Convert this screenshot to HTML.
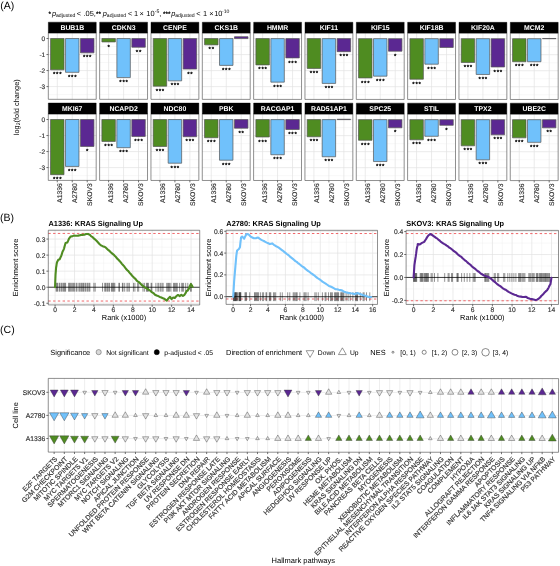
<!DOCTYPE html>
<html lang="en"><head><meta charset="utf-8"><title>Figure</title>
<style>html,body{margin:0;padding:0;background:#fff}body{width:560px;height:566px;overflow:hidden}svg{display:block}</style>
</head><body>
<svg width="560" height="566" viewBox="0 0 560 566" font-family='"Liberation Sans", Arial, Helvetica, sans-serif' text-rendering="geometricPrecision">
<g transform="rotate(0.02 280 283)">
<text x="0.1" y="9" font-size="10.5" text-anchor="start" font-weight="normal" fill="#000">(A)</text>
<text x="0.1" y="220.9" font-size="10.5" text-anchor="start" font-weight="normal" fill="#000">(B)</text>
<text x="0.1" y="333.4" font-size="10.5" text-anchor="start" font-weight="normal" fill="#000">(C)</text>
<text fill="#000"><tspan x="48.5" y="15.95" font-size="6.4" stroke="#000" stroke-width="0.25">*</tspan><tspan x="51.9" y="15.95" font-size="7.4" font-style="italic">p</tspan><tspan x="55.9" y="17.35" font-size="5.15">adjusted</tspan><tspan x="76.6" y="15.95" font-size="7.4">&lt;</tspan><tspan x="83.4" y="15.95" font-size="7.4">.05,</tspan><tspan x="96" y="15.95" font-size="6.4" stroke="#000" stroke-width="0.25">**</tspan><tspan x="102.7" y="15.95" font-size="7.4" font-style="italic">p</tspan><tspan x="106.7" y="17.35" font-size="5.15">adjusted</tspan><tspan x="127.8" y="15.95" font-size="7.4">&lt;</tspan><tspan x="134" y="15.95" font-size="7.4">1</tspan><tspan x="139.5" y="15.95" font-size="7.4">×</tspan><tspan x="146.2" y="15.95" font-size="7.4">10</tspan><tspan x="154.7" y="12.65" font-size="5.1">-5</tspan><tspan x="159.1" y="15.95" font-size="7.4">,</tspan><tspan x="162.9" y="15.95" font-size="6.4" stroke="#000" stroke-width="0.25">***</tspan><tspan x="171.1" y="15.95" font-size="7.4" font-style="italic">p</tspan><tspan x="175.1" y="17.35" font-size="5.15">adjusted</tspan><tspan x="196.2" y="15.95" font-size="7.4">&lt;</tspan><tspan x="202.8" y="15.95" font-size="7.4">1</tspan><tspan x="209.1" y="15.95" font-size="7.4">×</tspan><tspan x="214.1" y="15.95" font-size="7.4">10</tspan><tspan x="222" y="12.65" font-size="5.1">-10</tspan></text>
<rect x="48.25" y="33" width="47.9" height="66.4" fill="#fff" stroke="none" stroke-width="0.5"/>
<line x1="48.25" y1="46.61" x2="96.15" y2="46.61" stroke="#eeeeee" stroke-width="0.4"/>
<line x1="48.25" y1="62.63" x2="96.15" y2="62.63" stroke="#eeeeee" stroke-width="0.4"/>
<line x1="48.25" y1="78.65" x2="96.15" y2="78.65" stroke="#eeeeee" stroke-width="0.4"/>
<line x1="48.25" y1="94.67" x2="96.15" y2="94.67" stroke="#eeeeee" stroke-width="0.4"/>
<line x1="48.25" y1="38.6" x2="96.15" y2="38.6" stroke="#e2e2e2" stroke-width="0.7"/>
<line x1="48.25" y1="54.62" x2="96.15" y2="54.62" stroke="#e2e2e2" stroke-width="0.7"/>
<line x1="48.25" y1="70.64" x2="96.15" y2="70.64" stroke="#e2e2e2" stroke-width="0.7"/>
<line x1="48.25" y1="86.66" x2="96.15" y2="86.66" stroke="#e2e2e2" stroke-width="0.7"/>
<line x1="57.23" y1="33" x2="57.23" y2="99.4" stroke="#e2e2e2" stroke-width="0.7"/>
<line x1="72.2" y1="33" x2="72.2" y2="99.4" stroke="#e2e2e2" stroke-width="0.7"/>
<line x1="87.17" y1="33" x2="87.17" y2="99.4" stroke="#e2e2e2" stroke-width="0.7"/>
<rect x="50.5" y="38.6" width="13.47" height="31.3" fill="#4F8C21" stroke="#555" stroke-width="0.7"/>
<text x="57.58" y="76.5" font-size="6" text-anchor="middle" font-weight="normal" fill="#000" letter-spacing="0.75" stroke="#000" stroke-width="0.3">***</text>
<rect x="65.46" y="38.6" width="13.47" height="33.8" fill="#70C1FB" stroke="#555" stroke-width="0.7"/>
<text x="72.55" y="79" font-size="6" text-anchor="middle" font-weight="normal" fill="#000" letter-spacing="0.75" stroke="#000" stroke-width="0.3">***</text>
<rect x="80.43" y="38.6" width="13.47" height="14.3" fill="#5B2892" stroke="#555" stroke-width="0.7"/>
<text x="87.52" y="59.5" font-size="6" text-anchor="middle" font-weight="normal" fill="#000" letter-spacing="0.75" stroke="#000" stroke-width="0.3">***</text>
<rect x="48.25" y="33" width="47.9" height="66.4" fill="none" stroke="#454545" stroke-width="0.6"/>
<rect x="48.25" y="22.25" width="47.9" height="10.75" fill="#000" stroke="#000" stroke-width="0.4"/>
<text x="72.2" y="30.12" font-size="6.9" text-anchor="middle" font-weight="bold" fill="#fff">BUB1B</text>
<rect x="99.58" y="33" width="47.9" height="66.4" fill="#fff" stroke="none" stroke-width="0.5"/>
<line x1="99.58" y1="46.61" x2="147.48" y2="46.61" stroke="#eeeeee" stroke-width="0.4"/>
<line x1="99.58" y1="62.63" x2="147.48" y2="62.63" stroke="#eeeeee" stroke-width="0.4"/>
<line x1="99.58" y1="78.65" x2="147.48" y2="78.65" stroke="#eeeeee" stroke-width="0.4"/>
<line x1="99.58" y1="94.67" x2="147.48" y2="94.67" stroke="#eeeeee" stroke-width="0.4"/>
<line x1="99.58" y1="38.6" x2="147.48" y2="38.6" stroke="#e2e2e2" stroke-width="0.7"/>
<line x1="99.58" y1="54.62" x2="147.48" y2="54.62" stroke="#e2e2e2" stroke-width="0.7"/>
<line x1="99.58" y1="70.64" x2="147.48" y2="70.64" stroke="#e2e2e2" stroke-width="0.7"/>
<line x1="99.58" y1="86.66" x2="147.48" y2="86.66" stroke="#e2e2e2" stroke-width="0.7"/>
<line x1="108.56" y1="33" x2="108.56" y2="99.4" stroke="#e2e2e2" stroke-width="0.7"/>
<line x1="123.53" y1="33" x2="123.53" y2="99.4" stroke="#e2e2e2" stroke-width="0.7"/>
<line x1="138.5" y1="33" x2="138.5" y2="99.4" stroke="#e2e2e2" stroke-width="0.7"/>
<rect x="101.83" y="38.6" width="13.47" height="3.4" fill="#4F8C21" stroke="#555" stroke-width="0.7"/>
<text x="108.91" y="48.6" font-size="6" text-anchor="middle" font-weight="normal" fill="#000" letter-spacing="0.75" stroke="#000" stroke-width="0.3">*</text>
<rect x="116.79" y="38.6" width="13.47" height="39.05" fill="#70C1FB" stroke="#555" stroke-width="0.7"/>
<text x="123.88" y="84.25" font-size="6" text-anchor="middle" font-weight="normal" fill="#000" letter-spacing="0.75" stroke="#000" stroke-width="0.3">***</text>
<rect x="131.76" y="38.6" width="13.47" height="8.7" fill="#5B2892" stroke="#555" stroke-width="0.7"/>
<text x="138.85" y="53.9" font-size="6" text-anchor="middle" font-weight="normal" fill="#000" letter-spacing="0.75" stroke="#000" stroke-width="0.3">**</text>
<rect x="99.58" y="33" width="47.9" height="66.4" fill="none" stroke="#454545" stroke-width="0.6"/>
<rect x="99.58" y="22.25" width="47.9" height="10.75" fill="#000" stroke="#000" stroke-width="0.4"/>
<text x="123.53" y="30.12" font-size="6.9" text-anchor="middle" font-weight="bold" fill="#fff">CDKN3</text>
<rect x="150.91" y="33" width="47.9" height="66.4" fill="#fff" stroke="none" stroke-width="0.5"/>
<line x1="150.91" y1="46.61" x2="198.81" y2="46.61" stroke="#eeeeee" stroke-width="0.4"/>
<line x1="150.91" y1="62.63" x2="198.81" y2="62.63" stroke="#eeeeee" stroke-width="0.4"/>
<line x1="150.91" y1="78.65" x2="198.81" y2="78.65" stroke="#eeeeee" stroke-width="0.4"/>
<line x1="150.91" y1="94.67" x2="198.81" y2="94.67" stroke="#eeeeee" stroke-width="0.4"/>
<line x1="150.91" y1="38.6" x2="198.81" y2="38.6" stroke="#e2e2e2" stroke-width="0.7"/>
<line x1="150.91" y1="54.62" x2="198.81" y2="54.62" stroke="#e2e2e2" stroke-width="0.7"/>
<line x1="150.91" y1="70.64" x2="198.81" y2="70.64" stroke="#e2e2e2" stroke-width="0.7"/>
<line x1="150.91" y1="86.66" x2="198.81" y2="86.66" stroke="#e2e2e2" stroke-width="0.7"/>
<line x1="159.89" y1="33" x2="159.89" y2="99.4" stroke="#e2e2e2" stroke-width="0.7"/>
<line x1="174.86" y1="33" x2="174.86" y2="99.4" stroke="#e2e2e2" stroke-width="0.7"/>
<line x1="189.83" y1="33" x2="189.83" y2="99.4" stroke="#e2e2e2" stroke-width="0.7"/>
<rect x="153.16" y="38.6" width="13.47" height="47.6" fill="#4F8C21" stroke="#555" stroke-width="0.7"/>
<text x="160.24" y="92.8" font-size="6" text-anchor="middle" font-weight="normal" fill="#000" letter-spacing="0.75" stroke="#000" stroke-width="0.3">***</text>
<rect x="168.12" y="38.6" width="13.47" height="42.3" fill="#70C1FB" stroke="#555" stroke-width="0.7"/>
<text x="175.21" y="87.5" font-size="6" text-anchor="middle" font-weight="normal" fill="#000" letter-spacing="0.75" stroke="#000" stroke-width="0.3">***</text>
<rect x="183.09" y="38.6" width="13.47" height="30.5" fill="#5B2892" stroke="#555" stroke-width="0.7"/>
<text x="190.18" y="75.7" font-size="6" text-anchor="middle" font-weight="normal" fill="#000" letter-spacing="0.75" stroke="#000" stroke-width="0.3">**</text>
<rect x="150.91" y="33" width="47.9" height="66.4" fill="none" stroke="#454545" stroke-width="0.6"/>
<rect x="150.91" y="22.25" width="47.9" height="10.75" fill="#000" stroke="#000" stroke-width="0.4"/>
<text x="174.86" y="30.12" font-size="6.9" text-anchor="middle" font-weight="bold" fill="#fff">CENPE</text>
<rect x="202.24" y="33" width="47.9" height="66.4" fill="#fff" stroke="none" stroke-width="0.5"/>
<line x1="202.24" y1="46.61" x2="250.14" y2="46.61" stroke="#eeeeee" stroke-width="0.4"/>
<line x1="202.24" y1="62.63" x2="250.14" y2="62.63" stroke="#eeeeee" stroke-width="0.4"/>
<line x1="202.24" y1="78.65" x2="250.14" y2="78.65" stroke="#eeeeee" stroke-width="0.4"/>
<line x1="202.24" y1="94.67" x2="250.14" y2="94.67" stroke="#eeeeee" stroke-width="0.4"/>
<line x1="202.24" y1="38.6" x2="250.14" y2="38.6" stroke="#e2e2e2" stroke-width="0.7"/>
<line x1="202.24" y1="54.62" x2="250.14" y2="54.62" stroke="#e2e2e2" stroke-width="0.7"/>
<line x1="202.24" y1="70.64" x2="250.14" y2="70.64" stroke="#e2e2e2" stroke-width="0.7"/>
<line x1="202.24" y1="86.66" x2="250.14" y2="86.66" stroke="#e2e2e2" stroke-width="0.7"/>
<line x1="211.22" y1="33" x2="211.22" y2="99.4" stroke="#e2e2e2" stroke-width="0.7"/>
<line x1="226.19" y1="33" x2="226.19" y2="99.4" stroke="#e2e2e2" stroke-width="0.7"/>
<line x1="241.16" y1="33" x2="241.16" y2="99.4" stroke="#e2e2e2" stroke-width="0.7"/>
<rect x="204.49" y="38.6" width="13.47" height="6.3" fill="#4F8C21" stroke="#555" stroke-width="0.7"/>
<text x="211.57" y="51.5" font-size="6" text-anchor="middle" font-weight="normal" fill="#000" letter-spacing="0.75" stroke="#000" stroke-width="0.3">**</text>
<rect x="219.45" y="38.6" width="13.47" height="26.8" fill="#70C1FB" stroke="#555" stroke-width="0.7"/>
<text x="226.54" y="72" font-size="6" text-anchor="middle" font-weight="normal" fill="#000" letter-spacing="0.75" stroke="#000" stroke-width="0.3">***</text>
<rect x="234.42" y="36.7" width="13.47" height="1.9" fill="#5B2892" stroke="#555" stroke-width="0.7"/>
<rect x="202.24" y="33" width="47.9" height="66.4" fill="none" stroke="#454545" stroke-width="0.6"/>
<rect x="202.24" y="22.25" width="47.9" height="10.75" fill="#000" stroke="#000" stroke-width="0.4"/>
<text x="226.19" y="30.12" font-size="6.9" text-anchor="middle" font-weight="bold" fill="#fff">CKS1B</text>
<rect x="253.57" y="33" width="47.9" height="66.4" fill="#fff" stroke="none" stroke-width="0.5"/>
<line x1="253.57" y1="46.61" x2="301.47" y2="46.61" stroke="#eeeeee" stroke-width="0.4"/>
<line x1="253.57" y1="62.63" x2="301.47" y2="62.63" stroke="#eeeeee" stroke-width="0.4"/>
<line x1="253.57" y1="78.65" x2="301.47" y2="78.65" stroke="#eeeeee" stroke-width="0.4"/>
<line x1="253.57" y1="94.67" x2="301.47" y2="94.67" stroke="#eeeeee" stroke-width="0.4"/>
<line x1="253.57" y1="38.6" x2="301.47" y2="38.6" stroke="#e2e2e2" stroke-width="0.7"/>
<line x1="253.57" y1="54.62" x2="301.47" y2="54.62" stroke="#e2e2e2" stroke-width="0.7"/>
<line x1="253.57" y1="70.64" x2="301.47" y2="70.64" stroke="#e2e2e2" stroke-width="0.7"/>
<line x1="253.57" y1="86.66" x2="301.47" y2="86.66" stroke="#e2e2e2" stroke-width="0.7"/>
<line x1="262.55" y1="33" x2="262.55" y2="99.4" stroke="#e2e2e2" stroke-width="0.7"/>
<line x1="277.52" y1="33" x2="277.52" y2="99.4" stroke="#e2e2e2" stroke-width="0.7"/>
<line x1="292.49" y1="33" x2="292.49" y2="99.4" stroke="#e2e2e2" stroke-width="0.7"/>
<rect x="255.82" y="38.6" width="13.47" height="26.3" fill="#4F8C21" stroke="#555" stroke-width="0.7"/>
<text x="262.9" y="71.5" font-size="6" text-anchor="middle" font-weight="normal" fill="#000" letter-spacing="0.75" stroke="#000" stroke-width="0.3">***</text>
<rect x="270.78" y="38.6" width="13.47" height="43.55" fill="#70C1FB" stroke="#555" stroke-width="0.7"/>
<text x="277.87" y="88.75" font-size="6" text-anchor="middle" font-weight="normal" fill="#000" letter-spacing="0.75" stroke="#000" stroke-width="0.3">***</text>
<rect x="285.75" y="38.6" width="13.47" height="19.3" fill="#5B2892" stroke="#555" stroke-width="0.7"/>
<text x="292.84" y="64.5" font-size="6" text-anchor="middle" font-weight="normal" fill="#000" letter-spacing="0.75" stroke="#000" stroke-width="0.3">***</text>
<rect x="253.57" y="33" width="47.9" height="66.4" fill="none" stroke="#454545" stroke-width="0.6"/>
<rect x="253.57" y="22.25" width="47.9" height="10.75" fill="#000" stroke="#000" stroke-width="0.4"/>
<text x="277.52" y="30.12" font-size="6.9" text-anchor="middle" font-weight="bold" fill="#fff">HMMR</text>
<rect x="304.9" y="33" width="47.9" height="66.4" fill="#fff" stroke="none" stroke-width="0.5"/>
<line x1="304.9" y1="46.61" x2="352.8" y2="46.61" stroke="#eeeeee" stroke-width="0.4"/>
<line x1="304.9" y1="62.63" x2="352.8" y2="62.63" stroke="#eeeeee" stroke-width="0.4"/>
<line x1="304.9" y1="78.65" x2="352.8" y2="78.65" stroke="#eeeeee" stroke-width="0.4"/>
<line x1="304.9" y1="94.67" x2="352.8" y2="94.67" stroke="#eeeeee" stroke-width="0.4"/>
<line x1="304.9" y1="38.6" x2="352.8" y2="38.6" stroke="#e2e2e2" stroke-width="0.7"/>
<line x1="304.9" y1="54.62" x2="352.8" y2="54.62" stroke="#e2e2e2" stroke-width="0.7"/>
<line x1="304.9" y1="70.64" x2="352.8" y2="70.64" stroke="#e2e2e2" stroke-width="0.7"/>
<line x1="304.9" y1="86.66" x2="352.8" y2="86.66" stroke="#e2e2e2" stroke-width="0.7"/>
<line x1="313.88" y1="33" x2="313.88" y2="99.4" stroke="#e2e2e2" stroke-width="0.7"/>
<line x1="328.85" y1="33" x2="328.85" y2="99.4" stroke="#e2e2e2" stroke-width="0.7"/>
<line x1="343.82" y1="33" x2="343.82" y2="99.4" stroke="#e2e2e2" stroke-width="0.7"/>
<rect x="307.15" y="38.6" width="13.47" height="29.8" fill="#4F8C21" stroke="#555" stroke-width="0.7"/>
<text x="314.23" y="75" font-size="6" text-anchor="middle" font-weight="normal" fill="#000" letter-spacing="0.75" stroke="#000" stroke-width="0.3">***</text>
<rect x="322.11" y="38.6" width="13.47" height="44.8" fill="#70C1FB" stroke="#555" stroke-width="0.7"/>
<text x="329.2" y="90" font-size="6" text-anchor="middle" font-weight="normal" fill="#000" letter-spacing="0.75" stroke="#000" stroke-width="0.3">***</text>
<rect x="337.08" y="38.6" width="13.47" height="13.05" fill="#5B2892" stroke="#555" stroke-width="0.7"/>
<text x="344.17" y="58.25" font-size="6" text-anchor="middle" font-weight="normal" fill="#000" letter-spacing="0.75" stroke="#000" stroke-width="0.3">***</text>
<rect x="304.9" y="33" width="47.9" height="66.4" fill="none" stroke="#454545" stroke-width="0.6"/>
<rect x="304.9" y="22.25" width="47.9" height="10.75" fill="#000" stroke="#000" stroke-width="0.4"/>
<text x="328.85" y="30.12" font-size="6.9" text-anchor="middle" font-weight="bold" fill="#fff">KIF11</text>
<rect x="356.23" y="33" width="47.9" height="66.4" fill="#fff" stroke="none" stroke-width="0.5"/>
<line x1="356.23" y1="46.61" x2="404.13" y2="46.61" stroke="#eeeeee" stroke-width="0.4"/>
<line x1="356.23" y1="62.63" x2="404.13" y2="62.63" stroke="#eeeeee" stroke-width="0.4"/>
<line x1="356.23" y1="78.65" x2="404.13" y2="78.65" stroke="#eeeeee" stroke-width="0.4"/>
<line x1="356.23" y1="94.67" x2="404.13" y2="94.67" stroke="#eeeeee" stroke-width="0.4"/>
<line x1="356.23" y1="38.6" x2="404.13" y2="38.6" stroke="#e2e2e2" stroke-width="0.7"/>
<line x1="356.23" y1="54.62" x2="404.13" y2="54.62" stroke="#e2e2e2" stroke-width="0.7"/>
<line x1="356.23" y1="70.64" x2="404.13" y2="70.64" stroke="#e2e2e2" stroke-width="0.7"/>
<line x1="356.23" y1="86.66" x2="404.13" y2="86.66" stroke="#e2e2e2" stroke-width="0.7"/>
<line x1="365.21" y1="33" x2="365.21" y2="99.4" stroke="#e2e2e2" stroke-width="0.7"/>
<line x1="380.18" y1="33" x2="380.18" y2="99.4" stroke="#e2e2e2" stroke-width="0.7"/>
<line x1="395.15" y1="33" x2="395.15" y2="99.4" stroke="#e2e2e2" stroke-width="0.7"/>
<rect x="358.48" y="38.6" width="13.47" height="39.3" fill="#4F8C21" stroke="#555" stroke-width="0.7"/>
<text x="365.56" y="84.5" font-size="6" text-anchor="middle" font-weight="normal" fill="#000" letter-spacing="0.75" stroke="#000" stroke-width="0.3">***</text>
<rect x="373.44" y="38.6" width="13.47" height="37.55" fill="#70C1FB" stroke="#555" stroke-width="0.7"/>
<text x="380.53" y="82.75" font-size="6" text-anchor="middle" font-weight="normal" fill="#000" letter-spacing="0.75" stroke="#000" stroke-width="0.3">***</text>
<rect x="388.41" y="38.6" width="13.47" height="12.55" fill="#5B2892" stroke="#555" stroke-width="0.7"/>
<text x="395.5" y="57.75" font-size="6" text-anchor="middle" font-weight="normal" fill="#000" letter-spacing="0.75" stroke="#000" stroke-width="0.3">*</text>
<rect x="356.23" y="33" width="47.9" height="66.4" fill="none" stroke="#454545" stroke-width="0.6"/>
<rect x="356.23" y="22.25" width="47.9" height="10.75" fill="#000" stroke="#000" stroke-width="0.4"/>
<text x="380.18" y="30.12" font-size="6.9" text-anchor="middle" font-weight="bold" fill="#fff">KIF15</text>
<rect x="407.56" y="33" width="47.9" height="66.4" fill="#fff" stroke="none" stroke-width="0.5"/>
<line x1="407.56" y1="46.61" x2="455.46" y2="46.61" stroke="#eeeeee" stroke-width="0.4"/>
<line x1="407.56" y1="62.63" x2="455.46" y2="62.63" stroke="#eeeeee" stroke-width="0.4"/>
<line x1="407.56" y1="78.65" x2="455.46" y2="78.65" stroke="#eeeeee" stroke-width="0.4"/>
<line x1="407.56" y1="94.67" x2="455.46" y2="94.67" stroke="#eeeeee" stroke-width="0.4"/>
<line x1="407.56" y1="38.6" x2="455.46" y2="38.6" stroke="#e2e2e2" stroke-width="0.7"/>
<line x1="407.56" y1="54.62" x2="455.46" y2="54.62" stroke="#e2e2e2" stroke-width="0.7"/>
<line x1="407.56" y1="70.64" x2="455.46" y2="70.64" stroke="#e2e2e2" stroke-width="0.7"/>
<line x1="407.56" y1="86.66" x2="455.46" y2="86.66" stroke="#e2e2e2" stroke-width="0.7"/>
<line x1="416.54" y1="33" x2="416.54" y2="99.4" stroke="#e2e2e2" stroke-width="0.7"/>
<line x1="431.51" y1="33" x2="431.51" y2="99.4" stroke="#e2e2e2" stroke-width="0.7"/>
<line x1="446.48" y1="33" x2="446.48" y2="99.4" stroke="#e2e2e2" stroke-width="0.7"/>
<rect x="409.81" y="38.6" width="13.47" height="40.55" fill="#4F8C21" stroke="#555" stroke-width="0.7"/>
<text x="416.89" y="85.75" font-size="6" text-anchor="middle" font-weight="normal" fill="#000" letter-spacing="0.75" stroke="#000" stroke-width="0.3">***</text>
<rect x="424.77" y="38.6" width="13.47" height="25.55" fill="#70C1FB" stroke="#555" stroke-width="0.7"/>
<text x="431.86" y="70.75" font-size="6" text-anchor="middle" font-weight="normal" fill="#000" letter-spacing="0.75" stroke="#000" stroke-width="0.3">***</text>
<rect x="439.74" y="38.6" width="13.47" height="8.8" fill="#5B2892" stroke="#555" stroke-width="0.7"/>
<rect x="407.56" y="33" width="47.9" height="66.4" fill="none" stroke="#454545" stroke-width="0.6"/>
<rect x="407.56" y="22.25" width="47.9" height="10.75" fill="#000" stroke="#000" stroke-width="0.4"/>
<text x="431.51" y="30.12" font-size="6.9" text-anchor="middle" font-weight="bold" fill="#fff">KIF18B</text>
<rect x="458.89" y="33" width="47.9" height="66.4" fill="#fff" stroke="none" stroke-width="0.5"/>
<line x1="458.89" y1="46.61" x2="506.79" y2="46.61" stroke="#eeeeee" stroke-width="0.4"/>
<line x1="458.89" y1="62.63" x2="506.79" y2="62.63" stroke="#eeeeee" stroke-width="0.4"/>
<line x1="458.89" y1="78.65" x2="506.79" y2="78.65" stroke="#eeeeee" stroke-width="0.4"/>
<line x1="458.89" y1="94.67" x2="506.79" y2="94.67" stroke="#eeeeee" stroke-width="0.4"/>
<line x1="458.89" y1="38.6" x2="506.79" y2="38.6" stroke="#e2e2e2" stroke-width="0.7"/>
<line x1="458.89" y1="54.62" x2="506.79" y2="54.62" stroke="#e2e2e2" stroke-width="0.7"/>
<line x1="458.89" y1="70.64" x2="506.79" y2="70.64" stroke="#e2e2e2" stroke-width="0.7"/>
<line x1="458.89" y1="86.66" x2="506.79" y2="86.66" stroke="#e2e2e2" stroke-width="0.7"/>
<line x1="467.87" y1="33" x2="467.87" y2="99.4" stroke="#e2e2e2" stroke-width="0.7"/>
<line x1="482.84" y1="33" x2="482.84" y2="99.4" stroke="#e2e2e2" stroke-width="0.7"/>
<line x1="497.81" y1="33" x2="497.81" y2="99.4" stroke="#e2e2e2" stroke-width="0.7"/>
<rect x="461.14" y="38.6" width="13.47" height="23.8" fill="#4F8C21" stroke="#555" stroke-width="0.7"/>
<text x="468.22" y="69" font-size="6" text-anchor="middle" font-weight="normal" fill="#000" letter-spacing="0.75" stroke="#000" stroke-width="0.3">***</text>
<rect x="476.1" y="38.6" width="13.47" height="35.8" fill="#70C1FB" stroke="#555" stroke-width="0.7"/>
<text x="483.19" y="81" font-size="6" text-anchor="middle" font-weight="normal" fill="#000" letter-spacing="0.75" stroke="#000" stroke-width="0.3">***</text>
<rect x="491.07" y="38.6" width="13.47" height="28.3" fill="#5B2892" stroke="#555" stroke-width="0.7"/>
<text x="498.16" y="73.5" font-size="6" text-anchor="middle" font-weight="normal" fill="#000" letter-spacing="0.75" stroke="#000" stroke-width="0.3">***</text>
<rect x="458.89" y="33" width="47.9" height="66.4" fill="none" stroke="#454545" stroke-width="0.6"/>
<rect x="458.89" y="22.25" width="47.9" height="10.75" fill="#000" stroke="#000" stroke-width="0.4"/>
<text x="482.84" y="30.12" font-size="6.9" text-anchor="middle" font-weight="bold" fill="#fff">KIF20A</text>
<rect x="510.22" y="33" width="47.9" height="66.4" fill="#fff" stroke="none" stroke-width="0.5"/>
<line x1="510.22" y1="46.61" x2="558.12" y2="46.61" stroke="#eeeeee" stroke-width="0.4"/>
<line x1="510.22" y1="62.63" x2="558.12" y2="62.63" stroke="#eeeeee" stroke-width="0.4"/>
<line x1="510.22" y1="78.65" x2="558.12" y2="78.65" stroke="#eeeeee" stroke-width="0.4"/>
<line x1="510.22" y1="94.67" x2="558.12" y2="94.67" stroke="#eeeeee" stroke-width="0.4"/>
<line x1="510.22" y1="38.6" x2="558.12" y2="38.6" stroke="#e2e2e2" stroke-width="0.7"/>
<line x1="510.22" y1="54.62" x2="558.12" y2="54.62" stroke="#e2e2e2" stroke-width="0.7"/>
<line x1="510.22" y1="70.64" x2="558.12" y2="70.64" stroke="#e2e2e2" stroke-width="0.7"/>
<line x1="510.22" y1="86.66" x2="558.12" y2="86.66" stroke="#e2e2e2" stroke-width="0.7"/>
<line x1="519.2" y1="33" x2="519.2" y2="99.4" stroke="#e2e2e2" stroke-width="0.7"/>
<line x1="534.17" y1="33" x2="534.17" y2="99.4" stroke="#e2e2e2" stroke-width="0.7"/>
<line x1="549.14" y1="33" x2="549.14" y2="99.4" stroke="#e2e2e2" stroke-width="0.7"/>
<rect x="512.47" y="38.6" width="13.47" height="23.05" fill="#4F8C21" stroke="#555" stroke-width="0.7"/>
<text x="519.55" y="68.25" font-size="6" text-anchor="middle" font-weight="normal" fill="#000" letter-spacing="0.75" stroke="#000" stroke-width="0.3">***</text>
<rect x="527.43" y="38.6" width="13.47" height="23.05" fill="#70C1FB" stroke="#555" stroke-width="0.7"/>
<text x="534.52" y="68.25" font-size="6" text-anchor="middle" font-weight="normal" fill="#000" letter-spacing="0.75" stroke="#000" stroke-width="0.3">***</text>
<rect x="542.4" y="38.4" width="13.47" height="0.2" fill="#5B2892" stroke="#555" stroke-width="0.7"/>
<rect x="510.22" y="33" width="47.9" height="66.4" fill="none" stroke="#454545" stroke-width="0.6"/>
<rect x="510.22" y="22.25" width="47.9" height="10.75" fill="#000" stroke="#000" stroke-width="0.4"/>
<text x="534.17" y="30.12" font-size="6.9" text-anchor="middle" font-weight="bold" fill="#fff">MCM2</text>
<line x1="46.4" y1="38.6" x2="48.25" y2="38.6" stroke="#333" stroke-width="0.7"/>
<text x="45.2" y="40.95" font-size="6.6" text-anchor="end" font-weight="normal" fill="#333" stroke="#333" stroke-width="0.16">0</text>
<line x1="46.4" y1="54.62" x2="48.25" y2="54.62" stroke="#333" stroke-width="0.7"/>
<text x="45.2" y="56.97" font-size="6.6" text-anchor="end" font-weight="normal" fill="#333" stroke="#333" stroke-width="0.16">-1</text>
<line x1="46.4" y1="70.64" x2="48.25" y2="70.64" stroke="#333" stroke-width="0.7"/>
<text x="45.2" y="72.99" font-size="6.6" text-anchor="end" font-weight="normal" fill="#333" stroke="#333" stroke-width="0.16">-2</text>
<line x1="46.4" y1="86.66" x2="48.25" y2="86.66" stroke="#333" stroke-width="0.7"/>
<text x="45.2" y="89.01" font-size="6.6" text-anchor="end" font-weight="normal" fill="#333" stroke="#333" stroke-width="0.16">-3</text>
<rect x="48.25" y="114" width="47.9" height="66.5" fill="#fff" stroke="none" stroke-width="0.5"/>
<line x1="48.25" y1="127.61" x2="96.15" y2="127.61" stroke="#eeeeee" stroke-width="0.4"/>
<line x1="48.25" y1="143.63" x2="96.15" y2="143.63" stroke="#eeeeee" stroke-width="0.4"/>
<line x1="48.25" y1="159.65" x2="96.15" y2="159.65" stroke="#eeeeee" stroke-width="0.4"/>
<line x1="48.25" y1="175.67" x2="96.15" y2="175.67" stroke="#eeeeee" stroke-width="0.4"/>
<line x1="48.25" y1="119.6" x2="96.15" y2="119.6" stroke="#e2e2e2" stroke-width="0.7"/>
<line x1="48.25" y1="135.62" x2="96.15" y2="135.62" stroke="#e2e2e2" stroke-width="0.7"/>
<line x1="48.25" y1="151.64" x2="96.15" y2="151.64" stroke="#e2e2e2" stroke-width="0.7"/>
<line x1="48.25" y1="167.66" x2="96.15" y2="167.66" stroke="#e2e2e2" stroke-width="0.7"/>
<line x1="57.23" y1="114" x2="57.23" y2="180.5" stroke="#e2e2e2" stroke-width="0.7"/>
<line x1="72.2" y1="114" x2="72.2" y2="180.5" stroke="#e2e2e2" stroke-width="0.7"/>
<line x1="87.17" y1="114" x2="87.17" y2="180.5" stroke="#e2e2e2" stroke-width="0.7"/>
<rect x="50.5" y="119.6" width="13.47" height="55.15" fill="#4F8C21" stroke="#555" stroke-width="0.7"/>
<text x="57.58" y="181.35" font-size="6" text-anchor="middle" font-weight="normal" fill="#000" letter-spacing="0.75" stroke="#000" stroke-width="0.3">***</text>
<rect x="65.46" y="119.6" width="13.47" height="46.9" fill="#70C1FB" stroke="#555" stroke-width="0.7"/>
<text x="72.55" y="173.1" font-size="6" text-anchor="middle" font-weight="normal" fill="#000" letter-spacing="0.75" stroke="#000" stroke-width="0.3">***</text>
<rect x="80.43" y="119.6" width="13.47" height="26.9" fill="#5B2892" stroke="#555" stroke-width="0.7"/>
<text x="87.52" y="153.1" font-size="6" text-anchor="middle" font-weight="normal" fill="#000" letter-spacing="0.75" stroke="#000" stroke-width="0.3">*</text>
<rect x="48.25" y="114" width="47.9" height="66.5" fill="none" stroke="#454545" stroke-width="0.6"/>
<rect x="48.25" y="103.1" width="47.9" height="10.9" fill="#000" stroke="#000" stroke-width="0.4"/>
<text x="72.2" y="111.05" font-size="6.9" text-anchor="middle" font-weight="bold" fill="#fff">MKI67</text>
<rect x="99.58" y="114" width="47.9" height="66.5" fill="#fff" stroke="none" stroke-width="0.5"/>
<line x1="99.58" y1="127.61" x2="147.48" y2="127.61" stroke="#eeeeee" stroke-width="0.4"/>
<line x1="99.58" y1="143.63" x2="147.48" y2="143.63" stroke="#eeeeee" stroke-width="0.4"/>
<line x1="99.58" y1="159.65" x2="147.48" y2="159.65" stroke="#eeeeee" stroke-width="0.4"/>
<line x1="99.58" y1="175.67" x2="147.48" y2="175.67" stroke="#eeeeee" stroke-width="0.4"/>
<line x1="99.58" y1="119.6" x2="147.48" y2="119.6" stroke="#e2e2e2" stroke-width="0.7"/>
<line x1="99.58" y1="135.62" x2="147.48" y2="135.62" stroke="#e2e2e2" stroke-width="0.7"/>
<line x1="99.58" y1="151.64" x2="147.48" y2="151.64" stroke="#e2e2e2" stroke-width="0.7"/>
<line x1="99.58" y1="167.66" x2="147.48" y2="167.66" stroke="#e2e2e2" stroke-width="0.7"/>
<line x1="108.56" y1="114" x2="108.56" y2="180.5" stroke="#e2e2e2" stroke-width="0.7"/>
<line x1="123.53" y1="114" x2="123.53" y2="180.5" stroke="#e2e2e2" stroke-width="0.7"/>
<line x1="138.5" y1="114" x2="138.5" y2="180.5" stroke="#e2e2e2" stroke-width="0.7"/>
<rect x="101.83" y="119.6" width="13.47" height="21.9" fill="#4F8C21" stroke="#555" stroke-width="0.7"/>
<text x="108.91" y="148.1" font-size="6" text-anchor="middle" font-weight="normal" fill="#000" letter-spacing="0.75" stroke="#000" stroke-width="0.3">***</text>
<rect x="116.79" y="119.6" width="13.47" height="28.15" fill="#70C1FB" stroke="#555" stroke-width="0.7"/>
<text x="123.88" y="154.35" font-size="6" text-anchor="middle" font-weight="normal" fill="#000" letter-spacing="0.75" stroke="#000" stroke-width="0.3">***</text>
<rect x="131.76" y="119.6" width="13.47" height="16.9" fill="#5B2892" stroke="#555" stroke-width="0.7"/>
<text x="138.85" y="143.1" font-size="6" text-anchor="middle" font-weight="normal" fill="#000" letter-spacing="0.75" stroke="#000" stroke-width="0.3">***</text>
<rect x="99.58" y="114" width="47.9" height="66.5" fill="none" stroke="#454545" stroke-width="0.6"/>
<rect x="99.58" y="103.1" width="47.9" height="10.9" fill="#000" stroke="#000" stroke-width="0.4"/>
<text x="123.53" y="111.05" font-size="6.9" text-anchor="middle" font-weight="bold" fill="#fff">NCAPD2</text>
<rect x="150.91" y="114" width="47.9" height="66.5" fill="#fff" stroke="none" stroke-width="0.5"/>
<line x1="150.91" y1="127.61" x2="198.81" y2="127.61" stroke="#eeeeee" stroke-width="0.4"/>
<line x1="150.91" y1="143.63" x2="198.81" y2="143.63" stroke="#eeeeee" stroke-width="0.4"/>
<line x1="150.91" y1="159.65" x2="198.81" y2="159.65" stroke="#eeeeee" stroke-width="0.4"/>
<line x1="150.91" y1="175.67" x2="198.81" y2="175.67" stroke="#eeeeee" stroke-width="0.4"/>
<line x1="150.91" y1="119.6" x2="198.81" y2="119.6" stroke="#e2e2e2" stroke-width="0.7"/>
<line x1="150.91" y1="135.62" x2="198.81" y2="135.62" stroke="#e2e2e2" stroke-width="0.7"/>
<line x1="150.91" y1="151.64" x2="198.81" y2="151.64" stroke="#e2e2e2" stroke-width="0.7"/>
<line x1="150.91" y1="167.66" x2="198.81" y2="167.66" stroke="#e2e2e2" stroke-width="0.7"/>
<line x1="159.89" y1="114" x2="159.89" y2="180.5" stroke="#e2e2e2" stroke-width="0.7"/>
<line x1="174.86" y1="114" x2="174.86" y2="180.5" stroke="#e2e2e2" stroke-width="0.7"/>
<line x1="189.83" y1="114" x2="189.83" y2="180.5" stroke="#e2e2e2" stroke-width="0.7"/>
<rect x="153.16" y="119.6" width="13.47" height="26.9" fill="#4F8C21" stroke="#555" stroke-width="0.7"/>
<text x="160.24" y="153.1" font-size="6" text-anchor="middle" font-weight="normal" fill="#000" letter-spacing="0.75" stroke="#000" stroke-width="0.3">***</text>
<rect x="168.12" y="119.6" width="13.47" height="43.65" fill="#70C1FB" stroke="#555" stroke-width="0.7"/>
<text x="175.21" y="169.85" font-size="6" text-anchor="middle" font-weight="normal" fill="#000" letter-spacing="0.75" stroke="#000" stroke-width="0.3">***</text>
<rect x="183.09" y="119.6" width="13.47" height="17.15" fill="#5B2892" stroke="#555" stroke-width="0.7"/>
<text x="190.18" y="143.35" font-size="6" text-anchor="middle" font-weight="normal" fill="#000" letter-spacing="0.75" stroke="#000" stroke-width="0.3">***</text>
<rect x="150.91" y="114" width="47.9" height="66.5" fill="none" stroke="#454545" stroke-width="0.6"/>
<rect x="150.91" y="103.1" width="47.9" height="10.9" fill="#000" stroke="#000" stroke-width="0.4"/>
<text x="174.86" y="111.05" font-size="6.9" text-anchor="middle" font-weight="bold" fill="#fff">NDC80</text>
<rect x="202.24" y="114" width="47.9" height="66.5" fill="#fff" stroke="none" stroke-width="0.5"/>
<line x1="202.24" y1="127.61" x2="250.14" y2="127.61" stroke="#eeeeee" stroke-width="0.4"/>
<line x1="202.24" y1="143.63" x2="250.14" y2="143.63" stroke="#eeeeee" stroke-width="0.4"/>
<line x1="202.24" y1="159.65" x2="250.14" y2="159.65" stroke="#eeeeee" stroke-width="0.4"/>
<line x1="202.24" y1="175.67" x2="250.14" y2="175.67" stroke="#eeeeee" stroke-width="0.4"/>
<line x1="202.24" y1="119.6" x2="250.14" y2="119.6" stroke="#e2e2e2" stroke-width="0.7"/>
<line x1="202.24" y1="135.62" x2="250.14" y2="135.62" stroke="#e2e2e2" stroke-width="0.7"/>
<line x1="202.24" y1="151.64" x2="250.14" y2="151.64" stroke="#e2e2e2" stroke-width="0.7"/>
<line x1="202.24" y1="167.66" x2="250.14" y2="167.66" stroke="#e2e2e2" stroke-width="0.7"/>
<line x1="211.22" y1="114" x2="211.22" y2="180.5" stroke="#e2e2e2" stroke-width="0.7"/>
<line x1="226.19" y1="114" x2="226.19" y2="180.5" stroke="#e2e2e2" stroke-width="0.7"/>
<line x1="241.16" y1="114" x2="241.16" y2="180.5" stroke="#e2e2e2" stroke-width="0.7"/>
<rect x="204.49" y="119.6" width="13.47" height="18.15" fill="#4F8C21" stroke="#555" stroke-width="0.7"/>
<text x="211.57" y="144.35" font-size="6" text-anchor="middle" font-weight="normal" fill="#000" letter-spacing="0.75" stroke="#000" stroke-width="0.3">***</text>
<rect x="219.45" y="119.6" width="13.47" height="40.65" fill="#70C1FB" stroke="#555" stroke-width="0.7"/>
<text x="226.54" y="166.85" font-size="6" text-anchor="middle" font-weight="normal" fill="#000" letter-spacing="0.75" stroke="#000" stroke-width="0.3">***</text>
<rect x="234.42" y="119.6" width="13.47" height="8.65" fill="#5B2892" stroke="#555" stroke-width="0.7"/>
<text x="241.51" y="134.85" font-size="6" text-anchor="middle" font-weight="normal" fill="#000" letter-spacing="0.75" stroke="#000" stroke-width="0.3">**</text>
<rect x="202.24" y="114" width="47.9" height="66.5" fill="none" stroke="#454545" stroke-width="0.6"/>
<rect x="202.24" y="103.1" width="47.9" height="10.9" fill="#000" stroke="#000" stroke-width="0.4"/>
<text x="226.19" y="111.05" font-size="6.9" text-anchor="middle" font-weight="bold" fill="#fff">PBK</text>
<rect x="253.57" y="114" width="47.9" height="66.5" fill="#fff" stroke="none" stroke-width="0.5"/>
<line x1="253.57" y1="127.61" x2="301.47" y2="127.61" stroke="#eeeeee" stroke-width="0.4"/>
<line x1="253.57" y1="143.63" x2="301.47" y2="143.63" stroke="#eeeeee" stroke-width="0.4"/>
<line x1="253.57" y1="159.65" x2="301.47" y2="159.65" stroke="#eeeeee" stroke-width="0.4"/>
<line x1="253.57" y1="175.67" x2="301.47" y2="175.67" stroke="#eeeeee" stroke-width="0.4"/>
<line x1="253.57" y1="119.6" x2="301.47" y2="119.6" stroke="#e2e2e2" stroke-width="0.7"/>
<line x1="253.57" y1="135.62" x2="301.47" y2="135.62" stroke="#e2e2e2" stroke-width="0.7"/>
<line x1="253.57" y1="151.64" x2="301.47" y2="151.64" stroke="#e2e2e2" stroke-width="0.7"/>
<line x1="253.57" y1="167.66" x2="301.47" y2="167.66" stroke="#e2e2e2" stroke-width="0.7"/>
<line x1="262.55" y1="114" x2="262.55" y2="180.5" stroke="#e2e2e2" stroke-width="0.7"/>
<line x1="277.52" y1="114" x2="277.52" y2="180.5" stroke="#e2e2e2" stroke-width="0.7"/>
<line x1="292.49" y1="114" x2="292.49" y2="180.5" stroke="#e2e2e2" stroke-width="0.7"/>
<rect x="255.82" y="119.6" width="13.47" height="17.4" fill="#4F8C21" stroke="#555" stroke-width="0.7"/>
<text x="262.9" y="143.6" font-size="6" text-anchor="middle" font-weight="normal" fill="#000" letter-spacing="0.75" stroke="#000" stroke-width="0.3">***</text>
<rect x="270.78" y="119.6" width="13.47" height="35.15" fill="#70C1FB" stroke="#555" stroke-width="0.7"/>
<text x="277.87" y="161.35" font-size="6" text-anchor="middle" font-weight="normal" fill="#000" letter-spacing="0.75" stroke="#000" stroke-width="0.3">***</text>
<rect x="285.75" y="119.6" width="13.47" height="9.9" fill="#5B2892" stroke="#555" stroke-width="0.7"/>
<text x="292.84" y="136.1" font-size="6" text-anchor="middle" font-weight="normal" fill="#000" letter-spacing="0.75" stroke="#000" stroke-width="0.3">***</text>
<rect x="253.57" y="114" width="47.9" height="66.5" fill="none" stroke="#454545" stroke-width="0.6"/>
<rect x="253.57" y="103.1" width="47.9" height="10.9" fill="#000" stroke="#000" stroke-width="0.4"/>
<text x="277.52" y="111.05" font-size="6.9" text-anchor="middle" font-weight="bold" fill="#fff">RACGAP1</text>
<rect x="304.9" y="114" width="47.9" height="66.5" fill="#fff" stroke="none" stroke-width="0.5"/>
<line x1="304.9" y1="127.61" x2="352.8" y2="127.61" stroke="#eeeeee" stroke-width="0.4"/>
<line x1="304.9" y1="143.63" x2="352.8" y2="143.63" stroke="#eeeeee" stroke-width="0.4"/>
<line x1="304.9" y1="159.65" x2="352.8" y2="159.65" stroke="#eeeeee" stroke-width="0.4"/>
<line x1="304.9" y1="175.67" x2="352.8" y2="175.67" stroke="#eeeeee" stroke-width="0.4"/>
<line x1="304.9" y1="119.6" x2="352.8" y2="119.6" stroke="#e2e2e2" stroke-width="0.7"/>
<line x1="304.9" y1="135.62" x2="352.8" y2="135.62" stroke="#e2e2e2" stroke-width="0.7"/>
<line x1="304.9" y1="151.64" x2="352.8" y2="151.64" stroke="#e2e2e2" stroke-width="0.7"/>
<line x1="304.9" y1="167.66" x2="352.8" y2="167.66" stroke="#e2e2e2" stroke-width="0.7"/>
<line x1="313.88" y1="114" x2="313.88" y2="180.5" stroke="#e2e2e2" stroke-width="0.7"/>
<line x1="328.85" y1="114" x2="328.85" y2="180.5" stroke="#e2e2e2" stroke-width="0.7"/>
<line x1="343.82" y1="114" x2="343.82" y2="180.5" stroke="#e2e2e2" stroke-width="0.7"/>
<rect x="307.15" y="119.6" width="13.47" height="17.15" fill="#4F8C21" stroke="#555" stroke-width="0.7"/>
<text x="314.23" y="143.35" font-size="6" text-anchor="middle" font-weight="normal" fill="#000" letter-spacing="0.75" stroke="#000" stroke-width="0.3">***</text>
<rect x="322.11" y="119.6" width="13.47" height="37.15" fill="#70C1FB" stroke="#555" stroke-width="0.7"/>
<text x="329.2" y="163.35" font-size="6" text-anchor="middle" font-weight="normal" fill="#000" letter-spacing="0.75" stroke="#000" stroke-width="0.3">***</text>
<rect x="337.08" y="119.25" width="13.47" height="0.35" fill="#5B2892" stroke="#555" stroke-width="0.7"/>
<rect x="304.9" y="114" width="47.9" height="66.5" fill="none" stroke="#454545" stroke-width="0.6"/>
<rect x="304.9" y="103.1" width="47.9" height="10.9" fill="#000" stroke="#000" stroke-width="0.4"/>
<text x="328.85" y="111.05" font-size="6.9" text-anchor="middle" font-weight="bold" fill="#fff">RAD51AP1</text>
<rect x="356.23" y="114" width="47.9" height="66.5" fill="#fff" stroke="none" stroke-width="0.5"/>
<line x1="356.23" y1="127.61" x2="404.13" y2="127.61" stroke="#eeeeee" stroke-width="0.4"/>
<line x1="356.23" y1="143.63" x2="404.13" y2="143.63" stroke="#eeeeee" stroke-width="0.4"/>
<line x1="356.23" y1="159.65" x2="404.13" y2="159.65" stroke="#eeeeee" stroke-width="0.4"/>
<line x1="356.23" y1="175.67" x2="404.13" y2="175.67" stroke="#eeeeee" stroke-width="0.4"/>
<line x1="356.23" y1="119.6" x2="404.13" y2="119.6" stroke="#e2e2e2" stroke-width="0.7"/>
<line x1="356.23" y1="135.62" x2="404.13" y2="135.62" stroke="#e2e2e2" stroke-width="0.7"/>
<line x1="356.23" y1="151.64" x2="404.13" y2="151.64" stroke="#e2e2e2" stroke-width="0.7"/>
<line x1="356.23" y1="167.66" x2="404.13" y2="167.66" stroke="#e2e2e2" stroke-width="0.7"/>
<line x1="365.21" y1="114" x2="365.21" y2="180.5" stroke="#e2e2e2" stroke-width="0.7"/>
<line x1="380.18" y1="114" x2="380.18" y2="180.5" stroke="#e2e2e2" stroke-width="0.7"/>
<line x1="395.15" y1="114" x2="395.15" y2="180.5" stroke="#e2e2e2" stroke-width="0.7"/>
<rect x="358.48" y="119.6" width="13.47" height="20.65" fill="#4F8C21" stroke="#555" stroke-width="0.7"/>
<text x="365.56" y="146.85" font-size="6" text-anchor="middle" font-weight="normal" fill="#000" letter-spacing="0.75" stroke="#000" stroke-width="0.3">***</text>
<rect x="373.44" y="119.6" width="13.47" height="41.9" fill="#70C1FB" stroke="#555" stroke-width="0.7"/>
<text x="380.53" y="168.1" font-size="6" text-anchor="middle" font-weight="normal" fill="#000" letter-spacing="0.75" stroke="#000" stroke-width="0.3">***</text>
<rect x="388.41" y="119.6" width="13.47" height="8.15" fill="#5B2892" stroke="#555" stroke-width="0.7"/>
<text x="395.5" y="134.35" font-size="6" text-anchor="middle" font-weight="normal" fill="#000" letter-spacing="0.75" stroke="#000" stroke-width="0.3">*</text>
<rect x="356.23" y="114" width="47.9" height="66.5" fill="none" stroke="#454545" stroke-width="0.6"/>
<rect x="356.23" y="103.1" width="47.9" height="10.9" fill="#000" stroke="#000" stroke-width="0.4"/>
<text x="380.18" y="111.05" font-size="6.9" text-anchor="middle" font-weight="bold" fill="#fff">SPC25</text>
<rect x="407.56" y="114" width="47.9" height="66.5" fill="#fff" stroke="none" stroke-width="0.5"/>
<line x1="407.56" y1="127.61" x2="455.46" y2="127.61" stroke="#eeeeee" stroke-width="0.4"/>
<line x1="407.56" y1="143.63" x2="455.46" y2="143.63" stroke="#eeeeee" stroke-width="0.4"/>
<line x1="407.56" y1="159.65" x2="455.46" y2="159.65" stroke="#eeeeee" stroke-width="0.4"/>
<line x1="407.56" y1="175.67" x2="455.46" y2="175.67" stroke="#eeeeee" stroke-width="0.4"/>
<line x1="407.56" y1="119.6" x2="455.46" y2="119.6" stroke="#e2e2e2" stroke-width="0.7"/>
<line x1="407.56" y1="135.62" x2="455.46" y2="135.62" stroke="#e2e2e2" stroke-width="0.7"/>
<line x1="407.56" y1="151.64" x2="455.46" y2="151.64" stroke="#e2e2e2" stroke-width="0.7"/>
<line x1="407.56" y1="167.66" x2="455.46" y2="167.66" stroke="#e2e2e2" stroke-width="0.7"/>
<line x1="416.54" y1="114" x2="416.54" y2="180.5" stroke="#e2e2e2" stroke-width="0.7"/>
<line x1="431.51" y1="114" x2="431.51" y2="180.5" stroke="#e2e2e2" stroke-width="0.7"/>
<line x1="446.48" y1="114" x2="446.48" y2="180.5" stroke="#e2e2e2" stroke-width="0.7"/>
<rect x="409.81" y="119.6" width="13.47" height="20.15" fill="#4F8C21" stroke="#555" stroke-width="0.7"/>
<text x="416.89" y="146.35" font-size="6" text-anchor="middle" font-weight="normal" fill="#000" letter-spacing="0.75" stroke="#000" stroke-width="0.3">***</text>
<rect x="424.77" y="119.6" width="13.47" height="16.65" fill="#70C1FB" stroke="#555" stroke-width="0.7"/>
<text x="431.86" y="142.85" font-size="6" text-anchor="middle" font-weight="normal" fill="#000" letter-spacing="0.75" stroke="#000" stroke-width="0.3">***</text>
<rect x="439.74" y="119.6" width="13.47" height="5.65" fill="#5B2892" stroke="#555" stroke-width="0.7"/>
<text x="446.83" y="131.85" font-size="6" text-anchor="middle" font-weight="normal" fill="#000" letter-spacing="0.75" stroke="#000" stroke-width="0.3">*</text>
<rect x="407.56" y="114" width="47.9" height="66.5" fill="none" stroke="#454545" stroke-width="0.6"/>
<rect x="407.56" y="103.1" width="47.9" height="10.9" fill="#000" stroke="#000" stroke-width="0.4"/>
<text x="431.51" y="111.05" font-size="6.9" text-anchor="middle" font-weight="bold" fill="#fff">STIL</text>
<rect x="458.89" y="114" width="47.9" height="66.5" fill="#fff" stroke="none" stroke-width="0.5"/>
<line x1="458.89" y1="127.61" x2="506.79" y2="127.61" stroke="#eeeeee" stroke-width="0.4"/>
<line x1="458.89" y1="143.63" x2="506.79" y2="143.63" stroke="#eeeeee" stroke-width="0.4"/>
<line x1="458.89" y1="159.65" x2="506.79" y2="159.65" stroke="#eeeeee" stroke-width="0.4"/>
<line x1="458.89" y1="175.67" x2="506.79" y2="175.67" stroke="#eeeeee" stroke-width="0.4"/>
<line x1="458.89" y1="119.6" x2="506.79" y2="119.6" stroke="#e2e2e2" stroke-width="0.7"/>
<line x1="458.89" y1="135.62" x2="506.79" y2="135.62" stroke="#e2e2e2" stroke-width="0.7"/>
<line x1="458.89" y1="151.64" x2="506.79" y2="151.64" stroke="#e2e2e2" stroke-width="0.7"/>
<line x1="458.89" y1="167.66" x2="506.79" y2="167.66" stroke="#e2e2e2" stroke-width="0.7"/>
<line x1="467.87" y1="114" x2="467.87" y2="180.5" stroke="#e2e2e2" stroke-width="0.7"/>
<line x1="482.84" y1="114" x2="482.84" y2="180.5" stroke="#e2e2e2" stroke-width="0.7"/>
<line x1="497.81" y1="114" x2="497.81" y2="180.5" stroke="#e2e2e2" stroke-width="0.7"/>
<rect x="461.14" y="119.6" width="13.47" height="26.15" fill="#4F8C21" stroke="#555" stroke-width="0.7"/>
<text x="468.22" y="152.35" font-size="6" text-anchor="middle" font-weight="normal" fill="#000" letter-spacing="0.75" stroke="#000" stroke-width="0.3">***</text>
<rect x="476.1" y="119.6" width="13.47" height="40.15" fill="#70C1FB" stroke="#555" stroke-width="0.7"/>
<text x="483.19" y="166.35" font-size="6" text-anchor="middle" font-weight="normal" fill="#000" letter-spacing="0.75" stroke="#000" stroke-width="0.3">***</text>
<rect x="491.07" y="119.6" width="13.47" height="15.15" fill="#5B2892" stroke="#555" stroke-width="0.7"/>
<text x="498.16" y="141.35" font-size="6" text-anchor="middle" font-weight="normal" fill="#000" letter-spacing="0.75" stroke="#000" stroke-width="0.3">***</text>
<rect x="458.89" y="114" width="47.9" height="66.5" fill="none" stroke="#454545" stroke-width="0.6"/>
<rect x="458.89" y="103.1" width="47.9" height="10.9" fill="#000" stroke="#000" stroke-width="0.4"/>
<text x="482.84" y="111.05" font-size="6.9" text-anchor="middle" font-weight="bold" fill="#fff">TPX2</text>
<rect x="510.22" y="114" width="47.9" height="66.5" fill="#fff" stroke="none" stroke-width="0.5"/>
<line x1="510.22" y1="127.61" x2="558.12" y2="127.61" stroke="#eeeeee" stroke-width="0.4"/>
<line x1="510.22" y1="143.63" x2="558.12" y2="143.63" stroke="#eeeeee" stroke-width="0.4"/>
<line x1="510.22" y1="159.65" x2="558.12" y2="159.65" stroke="#eeeeee" stroke-width="0.4"/>
<line x1="510.22" y1="175.67" x2="558.12" y2="175.67" stroke="#eeeeee" stroke-width="0.4"/>
<line x1="510.22" y1="119.6" x2="558.12" y2="119.6" stroke="#e2e2e2" stroke-width="0.7"/>
<line x1="510.22" y1="135.62" x2="558.12" y2="135.62" stroke="#e2e2e2" stroke-width="0.7"/>
<line x1="510.22" y1="151.64" x2="558.12" y2="151.64" stroke="#e2e2e2" stroke-width="0.7"/>
<line x1="510.22" y1="167.66" x2="558.12" y2="167.66" stroke="#e2e2e2" stroke-width="0.7"/>
<line x1="519.2" y1="114" x2="519.2" y2="180.5" stroke="#e2e2e2" stroke-width="0.7"/>
<line x1="534.17" y1="114" x2="534.17" y2="180.5" stroke="#e2e2e2" stroke-width="0.7"/>
<line x1="549.14" y1="114" x2="549.14" y2="180.5" stroke="#e2e2e2" stroke-width="0.7"/>
<rect x="512.47" y="119.6" width="13.47" height="18.15" fill="#4F8C21" stroke="#555" stroke-width="0.7"/>
<text x="519.55" y="144.35" font-size="6" text-anchor="middle" font-weight="normal" fill="#000" letter-spacing="0.75" stroke="#000" stroke-width="0.3">***</text>
<rect x="527.43" y="119.6" width="13.47" height="22.65" fill="#70C1FB" stroke="#555" stroke-width="0.7"/>
<text x="534.52" y="148.85" font-size="6" text-anchor="middle" font-weight="normal" fill="#000" letter-spacing="0.75" stroke="#000" stroke-width="0.3">***</text>
<rect x="542.4" y="119.6" width="13.47" height="8.15" fill="#5B2892" stroke="#555" stroke-width="0.7"/>
<text x="549.49" y="134.35" font-size="6" text-anchor="middle" font-weight="normal" fill="#000" letter-spacing="0.75" stroke="#000" stroke-width="0.3">**</text>
<rect x="510.22" y="114" width="47.9" height="66.5" fill="none" stroke="#454545" stroke-width="0.6"/>
<rect x="510.22" y="103.1" width="47.9" height="10.9" fill="#000" stroke="#000" stroke-width="0.4"/>
<text x="534.17" y="111.05" font-size="6.9" text-anchor="middle" font-weight="bold" fill="#fff">UBE2C</text>
<line x1="46.4" y1="119.6" x2="48.25" y2="119.6" stroke="#333" stroke-width="0.7"/>
<text x="45.2" y="121.95" font-size="6.6" text-anchor="end" font-weight="normal" fill="#333" stroke="#333" stroke-width="0.16">0</text>
<line x1="46.4" y1="135.62" x2="48.25" y2="135.62" stroke="#333" stroke-width="0.7"/>
<text x="45.2" y="137.97" font-size="6.6" text-anchor="end" font-weight="normal" fill="#333" stroke="#333" stroke-width="0.16">-1</text>
<line x1="46.4" y1="151.64" x2="48.25" y2="151.64" stroke="#333" stroke-width="0.7"/>
<text x="45.2" y="153.99" font-size="6.6" text-anchor="end" font-weight="normal" fill="#333" stroke="#333" stroke-width="0.16">-2</text>
<line x1="46.4" y1="167.66" x2="48.25" y2="167.66" stroke="#333" stroke-width="0.7"/>
<text x="45.2" y="170.01" font-size="6.6" text-anchor="end" font-weight="normal" fill="#333" stroke="#333" stroke-width="0.16">-3</text>
<line x1="57.23" y1="180.5" x2="57.23" y2="182.4" stroke="#333" stroke-width="0.7"/>
<text transform="translate(61.98,183.3) rotate(-90)" font-size="6.8" text-anchor="end" font-weight="normal" fill="#333" stroke="#333" stroke-width="0.16">A1336</text>
<line x1="72.2" y1="180.5" x2="72.2" y2="182.4" stroke="#333" stroke-width="0.7"/>
<text transform="translate(76.95,183.3) rotate(-90)" font-size="6.8" text-anchor="end" font-weight="normal" fill="#333" stroke="#333" stroke-width="0.16">A2780</text>
<line x1="87.17" y1="180.5" x2="87.17" y2="182.4" stroke="#333" stroke-width="0.7"/>
<text transform="translate(91.92,183.3) rotate(-90)" font-size="6.8" text-anchor="end" font-weight="normal" fill="#333" stroke="#333" stroke-width="0.16">SKOV3</text>
<line x1="108.56" y1="180.5" x2="108.56" y2="182.4" stroke="#333" stroke-width="0.7"/>
<text transform="translate(113.31,183.3) rotate(-90)" font-size="6.8" text-anchor="end" font-weight="normal" fill="#333" stroke="#333" stroke-width="0.16">A1336</text>
<line x1="123.53" y1="180.5" x2="123.53" y2="182.4" stroke="#333" stroke-width="0.7"/>
<text transform="translate(128.28,183.3) rotate(-90)" font-size="6.8" text-anchor="end" font-weight="normal" fill="#333" stroke="#333" stroke-width="0.16">A2780</text>
<line x1="138.5" y1="180.5" x2="138.5" y2="182.4" stroke="#333" stroke-width="0.7"/>
<text transform="translate(143.25,183.3) rotate(-90)" font-size="6.8" text-anchor="end" font-weight="normal" fill="#333" stroke="#333" stroke-width="0.16">SKOV3</text>
<line x1="159.89" y1="180.5" x2="159.89" y2="182.4" stroke="#333" stroke-width="0.7"/>
<text transform="translate(164.64,183.3) rotate(-90)" font-size="6.8" text-anchor="end" font-weight="normal" fill="#333" stroke="#333" stroke-width="0.16">A1336</text>
<line x1="174.86" y1="180.5" x2="174.86" y2="182.4" stroke="#333" stroke-width="0.7"/>
<text transform="translate(179.61,183.3) rotate(-90)" font-size="6.8" text-anchor="end" font-weight="normal" fill="#333" stroke="#333" stroke-width="0.16">A2780</text>
<line x1="189.83" y1="180.5" x2="189.83" y2="182.4" stroke="#333" stroke-width="0.7"/>
<text transform="translate(194.58,183.3) rotate(-90)" font-size="6.8" text-anchor="end" font-weight="normal" fill="#333" stroke="#333" stroke-width="0.16">SKOV3</text>
<line x1="211.22" y1="180.5" x2="211.22" y2="182.4" stroke="#333" stroke-width="0.7"/>
<text transform="translate(215.97,183.3) rotate(-90)" font-size="6.8" text-anchor="end" font-weight="normal" fill="#333" stroke="#333" stroke-width="0.16">A1336</text>
<line x1="226.19" y1="180.5" x2="226.19" y2="182.4" stroke="#333" stroke-width="0.7"/>
<text transform="translate(230.94,183.3) rotate(-90)" font-size="6.8" text-anchor="end" font-weight="normal" fill="#333" stroke="#333" stroke-width="0.16">A2780</text>
<line x1="241.16" y1="180.5" x2="241.16" y2="182.4" stroke="#333" stroke-width="0.7"/>
<text transform="translate(245.91,183.3) rotate(-90)" font-size="6.8" text-anchor="end" font-weight="normal" fill="#333" stroke="#333" stroke-width="0.16">SKOV3</text>
<line x1="262.55" y1="180.5" x2="262.55" y2="182.4" stroke="#333" stroke-width="0.7"/>
<text transform="translate(267.3,183.3) rotate(-90)" font-size="6.8" text-anchor="end" font-weight="normal" fill="#333" stroke="#333" stroke-width="0.16">A1336</text>
<line x1="277.52" y1="180.5" x2="277.52" y2="182.4" stroke="#333" stroke-width="0.7"/>
<text transform="translate(282.27,183.3) rotate(-90)" font-size="6.8" text-anchor="end" font-weight="normal" fill="#333" stroke="#333" stroke-width="0.16">A2780</text>
<line x1="292.49" y1="180.5" x2="292.49" y2="182.4" stroke="#333" stroke-width="0.7"/>
<text transform="translate(297.24,183.3) rotate(-90)" font-size="6.8" text-anchor="end" font-weight="normal" fill="#333" stroke="#333" stroke-width="0.16">SKOV3</text>
<line x1="313.88" y1="180.5" x2="313.88" y2="182.4" stroke="#333" stroke-width="0.7"/>
<text transform="translate(318.63,183.3) rotate(-90)" font-size="6.8" text-anchor="end" font-weight="normal" fill="#333" stroke="#333" stroke-width="0.16">A1336</text>
<line x1="328.85" y1="180.5" x2="328.85" y2="182.4" stroke="#333" stroke-width="0.7"/>
<text transform="translate(333.6,183.3) rotate(-90)" font-size="6.8" text-anchor="end" font-weight="normal" fill="#333" stroke="#333" stroke-width="0.16">A2780</text>
<line x1="343.82" y1="180.5" x2="343.82" y2="182.4" stroke="#333" stroke-width="0.7"/>
<text transform="translate(348.57,183.3) rotate(-90)" font-size="6.8" text-anchor="end" font-weight="normal" fill="#333" stroke="#333" stroke-width="0.16">SKOV3</text>
<line x1="365.21" y1="180.5" x2="365.21" y2="182.4" stroke="#333" stroke-width="0.7"/>
<text transform="translate(369.96,183.3) rotate(-90)" font-size="6.8" text-anchor="end" font-weight="normal" fill="#333" stroke="#333" stroke-width="0.16">A1336</text>
<line x1="380.18" y1="180.5" x2="380.18" y2="182.4" stroke="#333" stroke-width="0.7"/>
<text transform="translate(384.93,183.3) rotate(-90)" font-size="6.8" text-anchor="end" font-weight="normal" fill="#333" stroke="#333" stroke-width="0.16">A2780</text>
<line x1="395.15" y1="180.5" x2="395.15" y2="182.4" stroke="#333" stroke-width="0.7"/>
<text transform="translate(399.9,183.3) rotate(-90)" font-size="6.8" text-anchor="end" font-weight="normal" fill="#333" stroke="#333" stroke-width="0.16">SKOV3</text>
<line x1="416.54" y1="180.5" x2="416.54" y2="182.4" stroke="#333" stroke-width="0.7"/>
<text transform="translate(421.29,183.3) rotate(-90)" font-size="6.8" text-anchor="end" font-weight="normal" fill="#333" stroke="#333" stroke-width="0.16">A1336</text>
<line x1="431.51" y1="180.5" x2="431.51" y2="182.4" stroke="#333" stroke-width="0.7"/>
<text transform="translate(436.26,183.3) rotate(-90)" font-size="6.8" text-anchor="end" font-weight="normal" fill="#333" stroke="#333" stroke-width="0.16">A2780</text>
<line x1="446.48" y1="180.5" x2="446.48" y2="182.4" stroke="#333" stroke-width="0.7"/>
<text transform="translate(451.23,183.3) rotate(-90)" font-size="6.8" text-anchor="end" font-weight="normal" fill="#333" stroke="#333" stroke-width="0.16">SKOV3</text>
<line x1="467.87" y1="180.5" x2="467.87" y2="182.4" stroke="#333" stroke-width="0.7"/>
<text transform="translate(472.62,183.3) rotate(-90)" font-size="6.8" text-anchor="end" font-weight="normal" fill="#333" stroke="#333" stroke-width="0.16">A1336</text>
<line x1="482.84" y1="180.5" x2="482.84" y2="182.4" stroke="#333" stroke-width="0.7"/>
<text transform="translate(487.59,183.3) rotate(-90)" font-size="6.8" text-anchor="end" font-weight="normal" fill="#333" stroke="#333" stroke-width="0.16">A2780</text>
<line x1="497.81" y1="180.5" x2="497.81" y2="182.4" stroke="#333" stroke-width="0.7"/>
<text transform="translate(502.56,183.3) rotate(-90)" font-size="6.8" text-anchor="end" font-weight="normal" fill="#333" stroke="#333" stroke-width="0.16">SKOV3</text>
<line x1="519.2" y1="180.5" x2="519.2" y2="182.4" stroke="#333" stroke-width="0.7"/>
<text transform="translate(523.95,183.3) rotate(-90)" font-size="6.8" text-anchor="end" font-weight="normal" fill="#333" stroke="#333" stroke-width="0.16">A1336</text>
<line x1="534.17" y1="180.5" x2="534.17" y2="182.4" stroke="#333" stroke-width="0.7"/>
<text transform="translate(538.92,183.3) rotate(-90)" font-size="6.8" text-anchor="end" font-weight="normal" fill="#333" stroke="#333" stroke-width="0.16">A2780</text>
<line x1="549.14" y1="180.5" x2="549.14" y2="182.4" stroke="#333" stroke-width="0.7"/>
<text transform="translate(553.89,183.3) rotate(-90)" font-size="6.8" text-anchor="end" font-weight="normal" fill="#333" stroke="#333" stroke-width="0.16">SKOV3</text>
<text transform="translate(18.6,107.3) rotate(-90)" font-size="7.4" text-anchor="middle" fill="#000">log<tspan font-size="5.2" dy="1.5">2</tspan><tspan dy="-1.5">(fold change)</tspan></text>
<rect x="48.3" y="230.3" width="151.4" height="74.7" fill="#fff" stroke="none" stroke-width="0.5"/>
<line x1="48.3" y1="295.33" x2="199.7" y2="295.33" stroke="#eeeeee" stroke-width="0.4"/>
<line x1="48.3" y1="279.27" x2="199.7" y2="279.27" stroke="#eeeeee" stroke-width="0.4"/>
<line x1="48.3" y1="263.23" x2="199.7" y2="263.23" stroke="#eeeeee" stroke-width="0.4"/>
<line x1="48.3" y1="247.18" x2="199.7" y2="247.18" stroke="#eeeeee" stroke-width="0.4"/>
<line x1="48.3" y1="231.12" x2="199.7" y2="231.12" stroke="#eeeeee" stroke-width="0.4"/>
<line x1="64.81" y1="230.3" x2="64.81" y2="305" stroke="#eeeeee" stroke-width="0.4"/>
<line x1="84.23" y1="230.3" x2="84.23" y2="305" stroke="#eeeeee" stroke-width="0.4"/>
<line x1="103.65" y1="230.3" x2="103.65" y2="305" stroke="#eeeeee" stroke-width="0.4"/>
<line x1="123.07" y1="230.3" x2="123.07" y2="305" stroke="#eeeeee" stroke-width="0.4"/>
<line x1="142.49" y1="230.3" x2="142.49" y2="305" stroke="#eeeeee" stroke-width="0.4"/>
<line x1="161.91" y1="230.3" x2="161.91" y2="305" stroke="#eeeeee" stroke-width="0.4"/>
<line x1="181.33" y1="230.3" x2="181.33" y2="305" stroke="#eeeeee" stroke-width="0.4"/>
<line x1="48.3" y1="303.35" x2="199.7" y2="303.35" stroke="#e2e2e2" stroke-width="0.7"/>
<line x1="48.3" y1="287.3" x2="199.7" y2="287.3" stroke="#e2e2e2" stroke-width="0.7"/>
<line x1="48.3" y1="271.25" x2="199.7" y2="271.25" stroke="#e2e2e2" stroke-width="0.7"/>
<line x1="48.3" y1="255.2" x2="199.7" y2="255.2" stroke="#e2e2e2" stroke-width="0.7"/>
<line x1="48.3" y1="239.15" x2="199.7" y2="239.15" stroke="#e2e2e2" stroke-width="0.7"/>
<line x1="55.1" y1="230.3" x2="55.1" y2="305" stroke="#e2e2e2" stroke-width="0.7"/>
<line x1="74.52" y1="230.3" x2="74.52" y2="305" stroke="#e2e2e2" stroke-width="0.7"/>
<line x1="93.94" y1="230.3" x2="93.94" y2="305" stroke="#e2e2e2" stroke-width="0.7"/>
<line x1="113.36" y1="230.3" x2="113.36" y2="305" stroke="#e2e2e2" stroke-width="0.7"/>
<line x1="132.78" y1="230.3" x2="132.78" y2="305" stroke="#e2e2e2" stroke-width="0.7"/>
<line x1="152.2" y1="230.3" x2="152.2" y2="305" stroke="#e2e2e2" stroke-width="0.7"/>
<line x1="171.62" y1="230.3" x2="171.62" y2="305" stroke="#e2e2e2" stroke-width="0.7"/>
<line x1="191.04" y1="230.3" x2="191.04" y2="305" stroke="#e2e2e2" stroke-width="0.7"/>
<line x1="48.3" y1="233.5" x2="199.7" y2="233.5" stroke="#ec4c50" stroke-width="0.85" stroke-dasharray="2.4 2.37"/>
<line x1="48.3" y1="301.1" x2="199.7" y2="301.1" stroke="#ec4c50" stroke-width="0.85" stroke-dasharray="2.4 2.37"/>
<line x1="48.3" y1="287.3" x2="199.7" y2="287.3" stroke="#111" stroke-width="0.8"/>
<line x1="56.1" y1="282.9" x2="56.1" y2="291.7" stroke="#000" stroke-width="0.5" stroke-opacity="0.85"/>
<line x1="56.8" y1="282.9" x2="56.8" y2="291.7" stroke="#000" stroke-width="0.5" stroke-opacity="0.85"/>
<line x1="57.5" y1="282.9" x2="57.5" y2="291.7" stroke="#000" stroke-width="0.5" stroke-opacity="0.85"/>
<line x1="59.1" y1="282.9" x2="59.1" y2="291.7" stroke="#000" stroke-width="0.5" stroke-opacity="0.85"/>
<line x1="59.8" y1="282.9" x2="59.8" y2="291.7" stroke="#000" stroke-width="0.5" stroke-opacity="0.85"/>
<line x1="61.2" y1="282.9" x2="61.2" y2="291.7" stroke="#000" stroke-width="0.5" stroke-opacity="0.85"/>
<line x1="62" y1="282.9" x2="62" y2="291.7" stroke="#000" stroke-width="0.5" stroke-opacity="0.85"/>
<line x1="63.2" y1="282.9" x2="63.2" y2="291.7" stroke="#000" stroke-width="0.5" stroke-opacity="0.85"/>
<line x1="64" y1="282.9" x2="64" y2="291.7" stroke="#000" stroke-width="0.5" stroke-opacity="0.85"/>
<line x1="64.8" y1="282.9" x2="64.8" y2="291.7" stroke="#000" stroke-width="0.5" stroke-opacity="0.85"/>
<line x1="65.6" y1="282.9" x2="65.6" y2="291.7" stroke="#000" stroke-width="0.5" stroke-opacity="0.85"/>
<line x1="68.6" y1="282.9" x2="68.6" y2="291.7" stroke="#000" stroke-width="0.5" stroke-opacity="0.85"/>
<line x1="69.4" y1="282.9" x2="69.4" y2="291.7" stroke="#000" stroke-width="0.5" stroke-opacity="0.85"/>
<line x1="70.3" y1="282.9" x2="70.3" y2="291.7" stroke="#000" stroke-width="0.5" stroke-opacity="0.85"/>
<line x1="71.3" y1="282.9" x2="71.3" y2="291.7" stroke="#000" stroke-width="0.5" stroke-opacity="0.85"/>
<line x1="72.4" y1="282.9" x2="72.4" y2="291.7" stroke="#000" stroke-width="0.5" stroke-opacity="0.85"/>
<line x1="73.5" y1="282.9" x2="73.5" y2="291.7" stroke="#000" stroke-width="0.5" stroke-opacity="0.85"/>
<line x1="74.6" y1="282.9" x2="74.6" y2="291.7" stroke="#000" stroke-width="0.5" stroke-opacity="0.85"/>
<line x1="76.2" y1="282.9" x2="76.2" y2="291.7" stroke="#000" stroke-width="0.5" stroke-opacity="0.85"/>
<line x1="77" y1="282.9" x2="77" y2="291.7" stroke="#000" stroke-width="0.5" stroke-opacity="0.85"/>
<line x1="78.9" y1="282.9" x2="78.9" y2="291.7" stroke="#000" stroke-width="0.5" stroke-opacity="0.85"/>
<line x1="79.8" y1="282.9" x2="79.8" y2="291.7" stroke="#000" stroke-width="0.5" stroke-opacity="0.85"/>
<line x1="81" y1="282.9" x2="81" y2="291.7" stroke="#000" stroke-width="0.5" stroke-opacity="0.85"/>
<line x1="81.8" y1="282.9" x2="81.8" y2="291.7" stroke="#000" stroke-width="0.5" stroke-opacity="0.85"/>
<line x1="82.9" y1="282.9" x2="82.9" y2="291.7" stroke="#000" stroke-width="0.5" stroke-opacity="0.85"/>
<line x1="83.4" y1="282.9" x2="83.4" y2="291.7" stroke="#000" stroke-width="0.5" stroke-opacity="0.85"/>
<line x1="84.9" y1="282.9" x2="84.9" y2="291.7" stroke="#000" stroke-width="0.5" stroke-opacity="0.85"/>
<line x1="85.7" y1="282.9" x2="85.7" y2="291.7" stroke="#000" stroke-width="0.5" stroke-opacity="0.85"/>
<line x1="87.1" y1="282.9" x2="87.1" y2="291.7" stroke="#000" stroke-width="0.5" stroke-opacity="0.85"/>
<line x1="87.9" y1="282.9" x2="87.9" y2="291.7" stroke="#000" stroke-width="0.5" stroke-opacity="0.85"/>
<line x1="89.1" y1="282.9" x2="89.1" y2="291.7" stroke="#000" stroke-width="0.5" stroke-opacity="0.85"/>
<line x1="89.9" y1="282.9" x2="89.9" y2="291.7" stroke="#000" stroke-width="0.5" stroke-opacity="0.85"/>
<line x1="93.9" y1="282.9" x2="93.9" y2="291.7" stroke="#000" stroke-width="0.5" stroke-opacity="0.85"/>
<line x1="95.2" y1="282.9" x2="95.2" y2="291.7" stroke="#000" stroke-width="0.5" stroke-opacity="0.85"/>
<line x1="102.5" y1="282.9" x2="102.5" y2="291.7" stroke="#000" stroke-width="0.5" stroke-opacity="0.85"/>
<line x1="104.7" y1="282.9" x2="104.7" y2="291.7" stroke="#000" stroke-width="0.5" stroke-opacity="0.85"/>
<line x1="105.5" y1="282.9" x2="105.5" y2="291.7" stroke="#000" stroke-width="0.5" stroke-opacity="0.85"/>
<line x1="106.8" y1="282.9" x2="106.8" y2="291.7" stroke="#000" stroke-width="0.5" stroke-opacity="0.85"/>
<line x1="107.6" y1="282.9" x2="107.6" y2="291.7" stroke="#000" stroke-width="0.5" stroke-opacity="0.85"/>
<line x1="108.8" y1="282.9" x2="108.8" y2="291.7" stroke="#000" stroke-width="0.5" stroke-opacity="0.85"/>
<line x1="109.6" y1="282.9" x2="109.6" y2="291.7" stroke="#000" stroke-width="0.5" stroke-opacity="0.85"/>
<line x1="111.5" y1="282.9" x2="111.5" y2="291.7" stroke="#000" stroke-width="0.5" stroke-opacity="0.85"/>
<line x1="112.3" y1="282.9" x2="112.3" y2="291.7" stroke="#000" stroke-width="0.5" stroke-opacity="0.85"/>
<line x1="113.1" y1="282.9" x2="113.1" y2="291.7" stroke="#000" stroke-width="0.5" stroke-opacity="0.85"/>
<line x1="113.9" y1="282.9" x2="113.9" y2="291.7" stroke="#000" stroke-width="0.5" stroke-opacity="0.85"/>
<line x1="114.8" y1="282.9" x2="114.8" y2="291.7" stroke="#000" stroke-width="0.5" stroke-opacity="0.85"/>
<line x1="118.8" y1="282.9" x2="118.8" y2="291.7" stroke="#000" stroke-width="0.5" stroke-opacity="0.85"/>
<line x1="119.5" y1="282.9" x2="119.5" y2="291.7" stroke="#000" stroke-width="0.5" stroke-opacity="0.85"/>
<line x1="122.4" y1="282.9" x2="122.4" y2="291.7" stroke="#000" stroke-width="0.5" stroke-opacity="0.85"/>
<line x1="123" y1="282.9" x2="123" y2="291.7" stroke="#000" stroke-width="0.5" stroke-opacity="0.85"/>
<line x1="124.7" y1="282.9" x2="124.7" y2="291.7" stroke="#000" stroke-width="0.5" stroke-opacity="0.85"/>
<line x1="127" y1="282.9" x2="127" y2="291.7" stroke="#000" stroke-width="0.5" stroke-opacity="0.85"/>
<line x1="128.1" y1="282.9" x2="128.1" y2="291.7" stroke="#000" stroke-width="0.5" stroke-opacity="0.85"/>
<line x1="129.4" y1="282.9" x2="129.4" y2="291.7" stroke="#000" stroke-width="0.5" stroke-opacity="0.85"/>
<line x1="133.5" y1="282.9" x2="133.5" y2="291.7" stroke="#000" stroke-width="0.5" stroke-opacity="0.85"/>
<line x1="134.9" y1="282.9" x2="134.9" y2="291.7" stroke="#000" stroke-width="0.5" stroke-opacity="0.85"/>
<line x1="137.6" y1="282.9" x2="137.6" y2="291.7" stroke="#000" stroke-width="0.5" stroke-opacity="0.85"/>
<line x1="138.7" y1="282.9" x2="138.7" y2="291.7" stroke="#000" stroke-width="0.5" stroke-opacity="0.85"/>
<line x1="143" y1="282.9" x2="143" y2="291.7" stroke="#000" stroke-width="0.5" stroke-opacity="0.85"/>
<line x1="144.4" y1="282.9" x2="144.4" y2="291.7" stroke="#000" stroke-width="0.5" stroke-opacity="0.85"/>
<line x1="146.4" y1="282.9" x2="146.4" y2="291.7" stroke="#000" stroke-width="0.5" stroke-opacity="0.85"/>
<line x1="147.1" y1="282.9" x2="147.1" y2="291.7" stroke="#000" stroke-width="0.5" stroke-opacity="0.85"/>
<line x1="147.7" y1="282.9" x2="147.7" y2="291.7" stroke="#000" stroke-width="0.5" stroke-opacity="0.85"/>
<line x1="148.4" y1="282.9" x2="148.4" y2="291.7" stroke="#000" stroke-width="0.5" stroke-opacity="0.85"/>
<line x1="151.1" y1="282.9" x2="151.1" y2="291.7" stroke="#000" stroke-width="0.5" stroke-opacity="0.85"/>
<line x1="151.8" y1="282.9" x2="151.8" y2="291.7" stroke="#000" stroke-width="0.5" stroke-opacity="0.85"/>
<line x1="155.9" y1="282.9" x2="155.9" y2="291.7" stroke="#000" stroke-width="0.5" stroke-opacity="0.85"/>
<line x1="157.9" y1="282.9" x2="157.9" y2="291.7" stroke="#000" stroke-width="0.5" stroke-opacity="0.85"/>
<line x1="158.9" y1="282.9" x2="158.9" y2="291.7" stroke="#000" stroke-width="0.5" stroke-opacity="0.85"/>
<line x1="160.6" y1="282.9" x2="160.6" y2="291.7" stroke="#000" stroke-width="0.5" stroke-opacity="0.85"/>
<line x1="162" y1="282.9" x2="162" y2="291.7" stroke="#000" stroke-width="0.5" stroke-opacity="0.85"/>
<line x1="163.1" y1="282.9" x2="163.1" y2="291.7" stroke="#000" stroke-width="0.5" stroke-opacity="0.85"/>
<line x1="166.7" y1="282.9" x2="166.7" y2="291.7" stroke="#000" stroke-width="0.5" stroke-opacity="0.85"/>
<line x1="167.7" y1="282.9" x2="167.7" y2="291.7" stroke="#000" stroke-width="0.5" stroke-opacity="0.85"/>
<line x1="168.5" y1="282.9" x2="168.5" y2="291.7" stroke="#000" stroke-width="0.5" stroke-opacity="0.85"/>
<line x1="169.5" y1="282.9" x2="169.5" y2="291.7" stroke="#000" stroke-width="0.5" stroke-opacity="0.85"/>
<line x1="170.8" y1="282.9" x2="170.8" y2="291.7" stroke="#000" stroke-width="0.5" stroke-opacity="0.85"/>
<line x1="173.5" y1="282.9" x2="173.5" y2="291.7" stroke="#000" stroke-width="0.5" stroke-opacity="0.85"/>
<line x1="174.5" y1="282.9" x2="174.5" y2="291.7" stroke="#000" stroke-width="0.5" stroke-opacity="0.85"/>
<line x1="175.4" y1="282.9" x2="175.4" y2="291.7" stroke="#000" stroke-width="0.5" stroke-opacity="0.85"/>
<line x1="176.4" y1="282.9" x2="176.4" y2="291.7" stroke="#000" stroke-width="0.5" stroke-opacity="0.85"/>
<line x1="177.3" y1="282.9" x2="177.3" y2="291.7" stroke="#000" stroke-width="0.5" stroke-opacity="0.85"/>
<line x1="179.6" y1="282.9" x2="179.6" y2="291.7" stroke="#000" stroke-width="0.5" stroke-opacity="0.85"/>
<line x1="181.7" y1="282.9" x2="181.7" y2="291.7" stroke="#000" stroke-width="0.5" stroke-opacity="0.85"/>
<line x1="182.6" y1="282.9" x2="182.6" y2="291.7" stroke="#000" stroke-width="0.5" stroke-opacity="0.85"/>
<line x1="183.6" y1="282.9" x2="183.6" y2="291.7" stroke="#000" stroke-width="0.5" stroke-opacity="0.85"/>
<line x1="185.7" y1="282.9" x2="185.7" y2="291.7" stroke="#000" stroke-width="0.5" stroke-opacity="0.85"/>
<line x1="187.8" y1="282.9" x2="187.8" y2="291.7" stroke="#000" stroke-width="0.5" stroke-opacity="0.85"/>
<line x1="190.5" y1="282.9" x2="190.5" y2="291.7" stroke="#000" stroke-width="0.5" stroke-opacity="0.85"/>
<line x1="191.4" y1="282.9" x2="191.4" y2="291.7" stroke="#000" stroke-width="0.5" stroke-opacity="0.85"/>
<polyline points="55.05,287.3 55.11,285.43 55.18,283.57 55.24,282.18 55.31,280.03 55.37,278.61 55.44,276.75 55.5,275.1 55.65,272.92 55.8,271.36 55.95,269.15 56.1,267.6 56.4,265.79 56.7,263.77 57,262.3 58.3,259.9 59.8,259.3 60.55,257.31 61.3,255.9 61.95,253.7 62.6,251.6 63.35,250.23 64.1,248.4 64.6,246.34 65.1,244.61 65.6,243 67.3,242.6 68.15,240.74 69,238.7 70.5,236.6 72.1,236.46 73.7,235.7 75.85,235.75 78,235.7 80.15,235.23 82.3,234.9 84.2,234.78 86.1,234 87.95,234.13 89.8,234.9 91.23,236.42 92.67,237.29 94.1,238.7 95.42,239.8 96.75,241.13 98.08,242.62 99.4,244.1 101,245.37 102.6,246.2 104.25,246.73 105.9,247.7 107.18,248.96 108.46,250.2 109.74,251.21 111.02,252.53 112.3,253.7 113.58,254.67 114.86,255.95 116.14,257.33 117.42,258.95 118.7,260.1 119.77,261.3 120.83,262.47 121.9,263.91 122.97,265.07 124.03,266.21 125.1,267.6 126.18,269.06 127.27,270.24 128.35,271.17 129.43,272.65 130.52,273.87 131.6,275.1 132.88,276.66 134.16,277.86 135.44,278.85 136.72,280.64 138,281.6 139.3,282.48 140.6,283.84 141.9,285.23 143.2,286.2 145.4,287.8 147,288.46 148.6,289.6 150.2,290.84 151.8,292.1 153.4,293.13 155,294.8 156.6,295.57 158.2,296.1 159.8,296.99 161.4,297.5 163.05,298.35 164.7,299.1 166.8,300.7 168.4,298.5 170,296.9 171.6,299.1 173.2,297.5 174.8,298 176.4,296.1 178,295 179.7,296.1 181.3,294.8 182.9,295.9 184.5,294.8 185.6,293.2 186.6,291 187.7,290.5 188.8,288.9 189.8,286.2 190.9,284.1 192,285.7 192.6,287" fill="none" stroke="#4F8C21" stroke-width="2.1" stroke-linejoin="round" stroke-linecap="round"/>
<rect x="48.3" y="230.3" width="151.4" height="74.7" fill="none" stroke="#454545" stroke-width="0.6"/>
<line x1="46.4" y1="303.35" x2="48.3" y2="303.35" stroke="#333" stroke-width="0.7"/>
<text x="45.4" y="305.95" font-size="6.7" text-anchor="end" font-weight="normal" fill="#333" stroke="#333" stroke-width="0.16">-0.1</text>
<line x1="46.4" y1="287.3" x2="48.3" y2="287.3" stroke="#333" stroke-width="0.7"/>
<text x="45.4" y="289.9" font-size="6.7" text-anchor="end" font-weight="normal" fill="#333" stroke="#333" stroke-width="0.16">0.0</text>
<line x1="46.4" y1="271.25" x2="48.3" y2="271.25" stroke="#333" stroke-width="0.7"/>
<text x="45.4" y="273.85" font-size="6.7" text-anchor="end" font-weight="normal" fill="#333" stroke="#333" stroke-width="0.16">0.1</text>
<line x1="46.4" y1="255.2" x2="48.3" y2="255.2" stroke="#333" stroke-width="0.7"/>
<text x="45.4" y="257.8" font-size="6.7" text-anchor="end" font-weight="normal" fill="#333" stroke="#333" stroke-width="0.16">0.2</text>
<line x1="46.4" y1="239.15" x2="48.3" y2="239.15" stroke="#333" stroke-width="0.7"/>
<text x="45.4" y="241.75" font-size="6.7" text-anchor="end" font-weight="normal" fill="#333" stroke="#333" stroke-width="0.16">0.3</text>
<line x1="55.1" y1="305" x2="55.1" y2="306.9" stroke="#333" stroke-width="0.7"/>
<text x="55.1" y="312.3" font-size="6.7" text-anchor="middle" font-weight="normal" fill="#333" stroke="#333" stroke-width="0.16">0</text>
<line x1="74.52" y1="305" x2="74.52" y2="306.9" stroke="#333" stroke-width="0.7"/>
<text x="74.52" y="312.3" font-size="6.7" text-anchor="middle" font-weight="normal" fill="#333" stroke="#333" stroke-width="0.16">2</text>
<line x1="93.94" y1="305" x2="93.94" y2="306.9" stroke="#333" stroke-width="0.7"/>
<text x="93.94" y="312.3" font-size="6.7" text-anchor="middle" font-weight="normal" fill="#333" stroke="#333" stroke-width="0.16">4</text>
<line x1="113.36" y1="305" x2="113.36" y2="306.9" stroke="#333" stroke-width="0.7"/>
<text x="113.36" y="312.3" font-size="6.7" text-anchor="middle" font-weight="normal" fill="#333" stroke="#333" stroke-width="0.16">6</text>
<line x1="132.78" y1="305" x2="132.78" y2="306.9" stroke="#333" stroke-width="0.7"/>
<text x="132.78" y="312.3" font-size="6.7" text-anchor="middle" font-weight="normal" fill="#333" stroke="#333" stroke-width="0.16">8</text>
<line x1="152.2" y1="305" x2="152.2" y2="306.9" stroke="#333" stroke-width="0.7"/>
<text x="152.2" y="312.3" font-size="6.7" text-anchor="middle" font-weight="normal" fill="#333" stroke="#333" stroke-width="0.16">10</text>
<line x1="171.62" y1="305" x2="171.62" y2="306.9" stroke="#333" stroke-width="0.7"/>
<text x="171.62" y="312.3" font-size="6.7" text-anchor="middle" font-weight="normal" fill="#333" stroke="#333" stroke-width="0.16">12</text>
<line x1="191.04" y1="305" x2="191.04" y2="306.9" stroke="#333" stroke-width="0.7"/>
<text x="191.04" y="312.3" font-size="6.7" text-anchor="middle" font-weight="normal" fill="#333" stroke="#333" stroke-width="0.16">14</text>
<text x="48.5" y="225.9" font-size="7.4" text-anchor="start" font-weight="bold" fill="#000">A1336: KRAS Signaling Up</text>
<text x="124" y="319.9" font-size="7.4" text-anchor="middle" font-weight="normal" fill="#000">Rank (x1000)</text>
<text transform="translate(17.9,267.5) rotate(-90)" font-size="7.4" text-anchor="middle" font-weight="normal" fill="#000">Enrichment score</text>
<rect x="226.1" y="230.3" width="151.4" height="74.1" fill="#fff" stroke="none" stroke-width="0.5"/>
<line x1="226.1" y1="285.8" x2="377.5" y2="285.8" stroke="#eeeeee" stroke-width="0.4"/>
<line x1="226.1" y1="264" x2="377.5" y2="264" stroke="#eeeeee" stroke-width="0.4"/>
<line x1="226.1" y1="242.2" x2="377.5" y2="242.2" stroke="#eeeeee" stroke-width="0.4"/>
<line x1="241.82" y1="230.3" x2="241.82" y2="304.4" stroke="#eeeeee" stroke-width="0.4"/>
<line x1="259.26" y1="230.3" x2="259.26" y2="304.4" stroke="#eeeeee" stroke-width="0.4"/>
<line x1="276.7" y1="230.3" x2="276.7" y2="304.4" stroke="#eeeeee" stroke-width="0.4"/>
<line x1="294.14" y1="230.3" x2="294.14" y2="304.4" stroke="#eeeeee" stroke-width="0.4"/>
<line x1="311.58" y1="230.3" x2="311.58" y2="304.4" stroke="#eeeeee" stroke-width="0.4"/>
<line x1="329.02" y1="230.3" x2="329.02" y2="304.4" stroke="#eeeeee" stroke-width="0.4"/>
<line x1="346.46" y1="230.3" x2="346.46" y2="304.4" stroke="#eeeeee" stroke-width="0.4"/>
<line x1="363.9" y1="230.3" x2="363.9" y2="304.4" stroke="#eeeeee" stroke-width="0.4"/>
<line x1="226.1" y1="296.7" x2="377.5" y2="296.7" stroke="#e2e2e2" stroke-width="0.7"/>
<line x1="226.1" y1="274.9" x2="377.5" y2="274.9" stroke="#e2e2e2" stroke-width="0.7"/>
<line x1="226.1" y1="253.1" x2="377.5" y2="253.1" stroke="#e2e2e2" stroke-width="0.7"/>
<line x1="226.1" y1="231.3" x2="377.5" y2="231.3" stroke="#e2e2e2" stroke-width="0.7"/>
<line x1="233.1" y1="230.3" x2="233.1" y2="304.4" stroke="#e2e2e2" stroke-width="0.7"/>
<line x1="250.54" y1="230.3" x2="250.54" y2="304.4" stroke="#e2e2e2" stroke-width="0.7"/>
<line x1="267.98" y1="230.3" x2="267.98" y2="304.4" stroke="#e2e2e2" stroke-width="0.7"/>
<line x1="285.42" y1="230.3" x2="285.42" y2="304.4" stroke="#e2e2e2" stroke-width="0.7"/>
<line x1="302.86" y1="230.3" x2="302.86" y2="304.4" stroke="#e2e2e2" stroke-width="0.7"/>
<line x1="320.3" y1="230.3" x2="320.3" y2="304.4" stroke="#e2e2e2" stroke-width="0.7"/>
<line x1="337.74" y1="230.3" x2="337.74" y2="304.4" stroke="#e2e2e2" stroke-width="0.7"/>
<line x1="355.18" y1="230.3" x2="355.18" y2="304.4" stroke="#e2e2e2" stroke-width="0.7"/>
<line x1="372.62" y1="230.3" x2="372.62" y2="304.4" stroke="#e2e2e2" stroke-width="0.7"/>
<line x1="226.1" y1="233.5" x2="377.5" y2="233.5" stroke="#ec4c50" stroke-width="0.85" stroke-dasharray="2.4 2.37"/>
<line x1="226.1" y1="299" x2="377.5" y2="299" stroke="#ec4c50" stroke-width="0.85" stroke-dasharray="2.4 2.37"/>
<line x1="226.1" y1="296.7" x2="377.5" y2="296.7" stroke="#111" stroke-width="0.8"/>
<line x1="233.5" y1="292.3" x2="233.5" y2="301.1" stroke="#000" stroke-width="0.5" stroke-opacity="0.85"/>
<line x1="233.9" y1="292.3" x2="233.9" y2="301.1" stroke="#000" stroke-width="0.5" stroke-opacity="0.85"/>
<line x1="234.3" y1="292.3" x2="234.3" y2="301.1" stroke="#000" stroke-width="0.5" stroke-opacity="0.85"/>
<line x1="234.7" y1="292.3" x2="234.7" y2="301.1" stroke="#000" stroke-width="0.5" stroke-opacity="0.85"/>
<line x1="235.1" y1="292.3" x2="235.1" y2="301.1" stroke="#000" stroke-width="0.5" stroke-opacity="0.85"/>
<line x1="235.5" y1="292.3" x2="235.5" y2="301.1" stroke="#000" stroke-width="0.5" stroke-opacity="0.85"/>
<line x1="235.9" y1="292.3" x2="235.9" y2="301.1" stroke="#000" stroke-width="0.5" stroke-opacity="0.85"/>
<line x1="236.3" y1="292.3" x2="236.3" y2="301.1" stroke="#000" stroke-width="0.5" stroke-opacity="0.85"/>
<line x1="236.7" y1="292.3" x2="236.7" y2="301.1" stroke="#000" stroke-width="0.5" stroke-opacity="0.85"/>
<line x1="237.5" y1="292.3" x2="237.5" y2="301.1" stroke="#000" stroke-width="0.5" stroke-opacity="0.85"/>
<line x1="238.9" y1="292.3" x2="238.9" y2="301.1" stroke="#000" stroke-width="0.5" stroke-opacity="0.85"/>
<line x1="239.3" y1="292.3" x2="239.3" y2="301.1" stroke="#000" stroke-width="0.5" stroke-opacity="0.85"/>
<line x1="239.7" y1="292.3" x2="239.7" y2="301.1" stroke="#000" stroke-width="0.5" stroke-opacity="0.85"/>
<line x1="240.1" y1="292.3" x2="240.1" y2="301.1" stroke="#000" stroke-width="0.5" stroke-opacity="0.85"/>
<line x1="240.5" y1="292.3" x2="240.5" y2="301.1" stroke="#000" stroke-width="0.5" stroke-opacity="0.85"/>
<line x1="240.9" y1="292.3" x2="240.9" y2="301.1" stroke="#000" stroke-width="0.5" stroke-opacity="0.85"/>
<line x1="245" y1="292.3" x2="245" y2="301.1" stroke="#000" stroke-width="0.5" stroke-opacity="0.85"/>
<line x1="245.8" y1="292.3" x2="245.8" y2="301.1" stroke="#000" stroke-width="0.5" stroke-opacity="0.85"/>
<line x1="246.4" y1="292.3" x2="246.4" y2="301.1" stroke="#000" stroke-width="0.5" stroke-opacity="0.85"/>
<line x1="249.7" y1="292.3" x2="249.7" y2="301.1" stroke="#000" stroke-width="0.5" stroke-opacity="0.85"/>
<line x1="254.5" y1="292.3" x2="254.5" y2="301.1" stroke="#000" stroke-width="0.5" stroke-opacity="0.85"/>
<line x1="255.3" y1="292.3" x2="255.3" y2="301.1" stroke="#000" stroke-width="0.5" stroke-opacity="0.85"/>
<line x1="256.1" y1="292.3" x2="256.1" y2="301.1" stroke="#000" stroke-width="0.5" stroke-opacity="0.85"/>
<line x1="256.9" y1="292.3" x2="256.9" y2="301.1" stroke="#000" stroke-width="0.5" stroke-opacity="0.85"/>
<line x1="257.7" y1="292.3" x2="257.7" y2="301.1" stroke="#000" stroke-width="0.5" stroke-opacity="0.85"/>
<line x1="258.6" y1="292.3" x2="258.6" y2="301.1" stroke="#000" stroke-width="0.5" stroke-opacity="0.85"/>
<line x1="260.6" y1="292.3" x2="260.6" y2="301.1" stroke="#000" stroke-width="0.5" stroke-opacity="0.85"/>
<line x1="262.6" y1="292.3" x2="262.6" y2="301.1" stroke="#000" stroke-width="0.5" stroke-opacity="0.85"/>
<line x1="263.6" y1="292.3" x2="263.6" y2="301.1" stroke="#000" stroke-width="0.5" stroke-opacity="0.85"/>
<line x1="266" y1="292.3" x2="266" y2="301.1" stroke="#000" stroke-width="0.5" stroke-opacity="0.85"/>
<line x1="266.7" y1="292.3" x2="266.7" y2="301.1" stroke="#000" stroke-width="0.5" stroke-opacity="0.85"/>
<line x1="269.4" y1="292.3" x2="269.4" y2="301.1" stroke="#000" stroke-width="0.5" stroke-opacity="0.85"/>
<line x1="270.1" y1="292.3" x2="270.1" y2="301.1" stroke="#000" stroke-width="0.5" stroke-opacity="0.85"/>
<line x1="270.8" y1="292.3" x2="270.8" y2="301.1" stroke="#000" stroke-width="0.5" stroke-opacity="0.85"/>
<line x1="273.5" y1="292.3" x2="273.5" y2="301.1" stroke="#000" stroke-width="0.5" stroke-opacity="0.85"/>
<line x1="274.6" y1="292.3" x2="274.6" y2="301.1" stroke="#000" stroke-width="0.5" stroke-opacity="0.85"/>
<line x1="275.7" y1="292.3" x2="275.7" y2="301.1" stroke="#000" stroke-width="0.5" stroke-opacity="0.85"/>
<line x1="280.3" y1="292.3" x2="280.3" y2="301.1" stroke="#000" stroke-width="0.5" stroke-opacity="0.85"/>
<line x1="282.3" y1="292.3" x2="282.3" y2="301.1" stroke="#000" stroke-width="0.5" stroke-opacity="0.85"/>
<line x1="287.7" y1="292.3" x2="287.7" y2="301.1" stroke="#000" stroke-width="0.5" stroke-opacity="0.85"/>
<line x1="289.8" y1="292.3" x2="289.8" y2="301.1" stroke="#000" stroke-width="0.5" stroke-opacity="0.85"/>
<line x1="293.2" y1="292.3" x2="293.2" y2="301.1" stroke="#000" stroke-width="0.5" stroke-opacity="0.85"/>
<line x1="294.2" y1="292.3" x2="294.2" y2="301.1" stroke="#000" stroke-width="0.5" stroke-opacity="0.85"/>
<line x1="295.3" y1="292.3" x2="295.3" y2="301.1" stroke="#000" stroke-width="0.5" stroke-opacity="0.85"/>
<line x1="296.4" y1="292.3" x2="296.4" y2="301.1" stroke="#000" stroke-width="0.5" stroke-opacity="0.85"/>
<line x1="297.2" y1="292.3" x2="297.2" y2="301.1" stroke="#000" stroke-width="0.5" stroke-opacity="0.85"/>
<line x1="299.9" y1="292.3" x2="299.9" y2="301.1" stroke="#000" stroke-width="0.5" stroke-opacity="0.85"/>
<line x1="304" y1="292.3" x2="304" y2="301.1" stroke="#000" stroke-width="0.5" stroke-opacity="0.85"/>
<line x1="305" y1="292.3" x2="305" y2="301.1" stroke="#000" stroke-width="0.5" stroke-opacity="0.85"/>
<line x1="306.1" y1="292.3" x2="306.1" y2="301.1" stroke="#000" stroke-width="0.5" stroke-opacity="0.85"/>
<line x1="308.1" y1="292.3" x2="308.1" y2="301.1" stroke="#000" stroke-width="0.5" stroke-opacity="0.85"/>
<line x1="314.9" y1="292.3" x2="314.9" y2="301.1" stroke="#000" stroke-width="0.5" stroke-opacity="0.85"/>
<line x1="316.2" y1="292.3" x2="316.2" y2="301.1" stroke="#000" stroke-width="0.5" stroke-opacity="0.85"/>
<line x1="318.3" y1="292.3" x2="318.3" y2="301.1" stroke="#000" stroke-width="0.5" stroke-opacity="0.85"/>
<line x1="322.4" y1="292.3" x2="322.4" y2="301.1" stroke="#000" stroke-width="0.5" stroke-opacity="0.85"/>
<line x1="325.1" y1="292.3" x2="325.1" y2="301.1" stroke="#000" stroke-width="0.5" stroke-opacity="0.85"/>
<line x1="326" y1="292.3" x2="326" y2="301.1" stroke="#000" stroke-width="0.5" stroke-opacity="0.85"/>
<line x1="328.5" y1="292.3" x2="328.5" y2="301.1" stroke="#000" stroke-width="0.5" stroke-opacity="0.85"/>
<line x1="330.5" y1="292.3" x2="330.5" y2="301.1" stroke="#000" stroke-width="0.5" stroke-opacity="0.85"/>
<line x1="331.4" y1="292.3" x2="331.4" y2="301.1" stroke="#000" stroke-width="0.5" stroke-opacity="0.85"/>
<line x1="332.4" y1="292.3" x2="332.4" y2="301.1" stroke="#000" stroke-width="0.5" stroke-opacity="0.85"/>
<line x1="334.6" y1="292.3" x2="334.6" y2="301.1" stroke="#000" stroke-width="0.5" stroke-opacity="0.85"/>
<line x1="335.4" y1="292.3" x2="335.4" y2="301.1" stroke="#000" stroke-width="0.5" stroke-opacity="0.85"/>
<line x1="336.2" y1="292.3" x2="336.2" y2="301.1" stroke="#000" stroke-width="0.5" stroke-opacity="0.85"/>
<line x1="337" y1="292.3" x2="337" y2="301.1" stroke="#000" stroke-width="0.5" stroke-opacity="0.85"/>
<line x1="337.8" y1="292.3" x2="337.8" y2="301.1" stroke="#000" stroke-width="0.5" stroke-opacity="0.85"/>
<line x1="338.6" y1="292.3" x2="338.6" y2="301.1" stroke="#000" stroke-width="0.5" stroke-opacity="0.85"/>
<line x1="340.7" y1="292.3" x2="340.7" y2="301.1" stroke="#000" stroke-width="0.5" stroke-opacity="0.85"/>
<line x1="341.5" y1="292.3" x2="341.5" y2="301.1" stroke="#000" stroke-width="0.5" stroke-opacity="0.85"/>
<line x1="342.3" y1="292.3" x2="342.3" y2="301.1" stroke="#000" stroke-width="0.5" stroke-opacity="0.85"/>
<line x1="343.1" y1="292.3" x2="343.1" y2="301.1" stroke="#000" stroke-width="0.5" stroke-opacity="0.85"/>
<line x1="343.9" y1="292.3" x2="343.9" y2="301.1" stroke="#000" stroke-width="0.5" stroke-opacity="0.85"/>
<line x1="346.1" y1="292.3" x2="346.1" y2="301.1" stroke="#000" stroke-width="0.5" stroke-opacity="0.85"/>
<line x1="348.1" y1="292.3" x2="348.1" y2="301.1" stroke="#000" stroke-width="0.5" stroke-opacity="0.85"/>
<line x1="350.2" y1="292.3" x2="350.2" y2="301.1" stroke="#000" stroke-width="0.5" stroke-opacity="0.85"/>
<line x1="352.9" y1="292.3" x2="352.9" y2="301.1" stroke="#000" stroke-width="0.5" stroke-opacity="0.85"/>
<line x1="355.6" y1="292.3" x2="355.6" y2="301.1" stroke="#000" stroke-width="0.5" stroke-opacity="0.85"/>
<line x1="356.3" y1="292.3" x2="356.3" y2="301.1" stroke="#000" stroke-width="0.5" stroke-opacity="0.85"/>
<line x1="357" y1="292.3" x2="357" y2="301.1" stroke="#000" stroke-width="0.5" stroke-opacity="0.85"/>
<line x1="357.6" y1="292.3" x2="357.6" y2="301.1" stroke="#000" stroke-width="0.5" stroke-opacity="0.85"/>
<line x1="360.3" y1="292.3" x2="360.3" y2="301.1" stroke="#000" stroke-width="0.5" stroke-opacity="0.85"/>
<line x1="363.1" y1="292.3" x2="363.1" y2="301.1" stroke="#000" stroke-width="0.5" stroke-opacity="0.85"/>
<line x1="364.1" y1="292.3" x2="364.1" y2="301.1" stroke="#000" stroke-width="0.5" stroke-opacity="0.85"/>
<line x1="366.5" y1="292.3" x2="366.5" y2="301.1" stroke="#000" stroke-width="0.5" stroke-opacity="0.85"/>
<line x1="369.8" y1="292.3" x2="369.8" y2="301.1" stroke="#000" stroke-width="0.5" stroke-opacity="0.85"/>
<polyline points="233.2,296.7 233.3,295.21 233.4,293.25 233.5,291.76 233.6,290.04 233.7,288.35 233.8,286.61 233.9,285.13 234,283.5 234.1,281.6 234.25,279.8 234.4,278.12 234.55,276.03 234.7,274.57 234.85,272.76 235,270.9 235.14,269.48 235.29,267.73 235.43,265.79 235.58,264.18 235.72,262.65 235.87,260.66 236.01,259.21 236.16,257.4 236.3,255.9 236.57,253.91 236.83,252.08 237.1,250.5 238.9,249 239.9,247.3 240.08,245.82 240.27,243.88 240.45,242.32 240.63,240.78 240.82,239.4 241,237.6 242.1,236.6 244.2,238.7 244.93,236.92 245.67,235.54 246.4,234 248.5,234.4 250.6,236.6 252.25,237.47 253.9,238.3 256,238.14 258.1,237.6 259.53,238.69 260.97,239.65 262.4,240.4 263.83,241.02 265.27,241.82 266.7,242.6 268.3,243.28 269.9,244.1 272.1,243.4 273.87,244.76 275.63,245.96 277.4,246.9 278.7,247.67 280,248.62 281.3,249.59 282.6,250.53 283.9,251.6 285.18,252.65 286.46,253.76 287.74,254.66 289.02,255.59 290.3,256.9 291.58,257.86 292.86,258.83 294.14,259.93 295.42,261.13 296.7,261.9 297.98,263.02 299.26,263.95 300.54,265.02 301.82,266.07 303.1,267 304.4,267.76 305.7,269.16 307,270.08 308.3,271.11 309.6,271.9 310.88,273.05 312.16,273.85 313.44,274.85 314.72,275.7 316,276.9 317.6,278.14 319.2,279.03 320.8,280.21 322.4,281.6 324.02,282.53 325.65,283.58 327.27,284.75 328.9,285.9 330.5,286.48 332.1,287.25 333.7,288.13 335.3,289.1 337.07,289.23 338.83,289.7 340.6,290.1 342.4,290.6 344.2,291.75 346,292.3 348.25,292.86 350.5,293.3 352.6,293.52 354.7,294.1 356.3,293.48 357.9,293.1 360,293.9 361.6,294.47 363.2,295.2 365.35,295.73 367.5,296.4 369.6,297.3 371.2,297" fill="none" stroke="#70C1FB" stroke-width="2.1" stroke-linejoin="round" stroke-linecap="round"/>
<rect x="226.1" y="230.3" width="151.4" height="74.1" fill="none" stroke="#454545" stroke-width="0.6"/>
<line x1="224.2" y1="296.7" x2="226.1" y2="296.7" stroke="#333" stroke-width="0.7"/>
<text x="223.2" y="299.3" font-size="6.7" text-anchor="end" font-weight="normal" fill="#333" stroke="#333" stroke-width="0.16">0.0</text>
<line x1="224.2" y1="274.9" x2="226.1" y2="274.9" stroke="#333" stroke-width="0.7"/>
<text x="223.2" y="277.5" font-size="6.7" text-anchor="end" font-weight="normal" fill="#333" stroke="#333" stroke-width="0.16">0.2</text>
<line x1="224.2" y1="253.1" x2="226.1" y2="253.1" stroke="#333" stroke-width="0.7"/>
<text x="223.2" y="255.7" font-size="6.7" text-anchor="end" font-weight="normal" fill="#333" stroke="#333" stroke-width="0.16">0.4</text>
<line x1="224.2" y1="231.3" x2="226.1" y2="231.3" stroke="#333" stroke-width="0.7"/>
<text x="223.2" y="233.9" font-size="6.7" text-anchor="end" font-weight="normal" fill="#333" stroke="#333" stroke-width="0.16">0.6</text>
<line x1="233.1" y1="304.4" x2="233.1" y2="306.3" stroke="#333" stroke-width="0.7"/>
<text x="233.1" y="311.7" font-size="6.7" text-anchor="middle" font-weight="normal" fill="#333" stroke="#333" stroke-width="0.16">0</text>
<line x1="250.54" y1="304.4" x2="250.54" y2="306.3" stroke="#333" stroke-width="0.7"/>
<text x="250.54" y="311.7" font-size="6.7" text-anchor="middle" font-weight="normal" fill="#333" stroke="#333" stroke-width="0.16">2</text>
<line x1="267.98" y1="304.4" x2="267.98" y2="306.3" stroke="#333" stroke-width="0.7"/>
<text x="267.98" y="311.7" font-size="6.7" text-anchor="middle" font-weight="normal" fill="#333" stroke="#333" stroke-width="0.16">4</text>
<line x1="285.42" y1="304.4" x2="285.42" y2="306.3" stroke="#333" stroke-width="0.7"/>
<text x="285.42" y="311.7" font-size="6.7" text-anchor="middle" font-weight="normal" fill="#333" stroke="#333" stroke-width="0.16">6</text>
<line x1="302.86" y1="304.4" x2="302.86" y2="306.3" stroke="#333" stroke-width="0.7"/>
<text x="302.86" y="311.7" font-size="6.7" text-anchor="middle" font-weight="normal" fill="#333" stroke="#333" stroke-width="0.16">8</text>
<line x1="320.3" y1="304.4" x2="320.3" y2="306.3" stroke="#333" stroke-width="0.7"/>
<text x="320.3" y="311.7" font-size="6.7" text-anchor="middle" font-weight="normal" fill="#333" stroke="#333" stroke-width="0.16">10</text>
<line x1="337.74" y1="304.4" x2="337.74" y2="306.3" stroke="#333" stroke-width="0.7"/>
<text x="337.74" y="311.7" font-size="6.7" text-anchor="middle" font-weight="normal" fill="#333" stroke="#333" stroke-width="0.16">12</text>
<line x1="355.18" y1="304.4" x2="355.18" y2="306.3" stroke="#333" stroke-width="0.7"/>
<text x="355.18" y="311.7" font-size="6.7" text-anchor="middle" font-weight="normal" fill="#333" stroke="#333" stroke-width="0.16">14</text>
<line x1="372.62" y1="304.4" x2="372.62" y2="306.3" stroke="#333" stroke-width="0.7"/>
<text x="372.62" y="311.7" font-size="6.7" text-anchor="middle" font-weight="normal" fill="#333" stroke="#333" stroke-width="0.16">16</text>
<text x="226.3" y="225.9" font-size="7.4" text-anchor="start" font-weight="bold" fill="#000">A2780: KRAS Signaling Up</text>
<text x="301.8" y="319.9" font-size="7.4" text-anchor="middle" font-weight="normal" fill="#000">Rank (x1000)</text>
<text transform="translate(211.4,267.5) rotate(-90)" font-size="7.4" text-anchor="middle" font-weight="normal" fill="#000">Enrichment score</text>
<rect x="406.1" y="230.3" width="152.4" height="74.1" fill="#fff" stroke="none" stroke-width="0.5"/>
<line x1="406.1" y1="288.87" x2="558.5" y2="288.87" stroke="#eeeeee" stroke-width="0.4"/>
<line x1="406.1" y1="265.93" x2="558.5" y2="265.93" stroke="#eeeeee" stroke-width="0.4"/>
<line x1="406.1" y1="242.99" x2="558.5" y2="242.99" stroke="#eeeeee" stroke-width="0.4"/>
<line x1="423.45" y1="230.3" x2="423.45" y2="304.4" stroke="#eeeeee" stroke-width="0.4"/>
<line x1="443.15" y1="230.3" x2="443.15" y2="304.4" stroke="#eeeeee" stroke-width="0.4"/>
<line x1="462.85" y1="230.3" x2="462.85" y2="304.4" stroke="#eeeeee" stroke-width="0.4"/>
<line x1="482.55" y1="230.3" x2="482.55" y2="304.4" stroke="#eeeeee" stroke-width="0.4"/>
<line x1="502.25" y1="230.3" x2="502.25" y2="304.4" stroke="#eeeeee" stroke-width="0.4"/>
<line x1="521.95" y1="230.3" x2="521.95" y2="304.4" stroke="#eeeeee" stroke-width="0.4"/>
<line x1="541.65" y1="230.3" x2="541.65" y2="304.4" stroke="#eeeeee" stroke-width="0.4"/>
<line x1="406.1" y1="300.34" x2="558.5" y2="300.34" stroke="#e2e2e2" stroke-width="0.7"/>
<line x1="406.1" y1="277.4" x2="558.5" y2="277.4" stroke="#e2e2e2" stroke-width="0.7"/>
<line x1="406.1" y1="254.46" x2="558.5" y2="254.46" stroke="#e2e2e2" stroke-width="0.7"/>
<line x1="406.1" y1="231.52" x2="558.5" y2="231.52" stroke="#e2e2e2" stroke-width="0.7"/>
<line x1="413.6" y1="230.3" x2="413.6" y2="304.4" stroke="#e2e2e2" stroke-width="0.7"/>
<line x1="433.3" y1="230.3" x2="433.3" y2="304.4" stroke="#e2e2e2" stroke-width="0.7"/>
<line x1="453" y1="230.3" x2="453" y2="304.4" stroke="#e2e2e2" stroke-width="0.7"/>
<line x1="472.7" y1="230.3" x2="472.7" y2="304.4" stroke="#e2e2e2" stroke-width="0.7"/>
<line x1="492.4" y1="230.3" x2="492.4" y2="304.4" stroke="#e2e2e2" stroke-width="0.7"/>
<line x1="512.1" y1="230.3" x2="512.1" y2="304.4" stroke="#e2e2e2" stroke-width="0.7"/>
<line x1="531.8" y1="230.3" x2="531.8" y2="304.4" stroke="#e2e2e2" stroke-width="0.7"/>
<line x1="551.5" y1="230.3" x2="551.5" y2="304.4" stroke="#e2e2e2" stroke-width="0.7"/>
<line x1="406.1" y1="233.5" x2="558.5" y2="233.5" stroke="#ec4c50" stroke-width="0.85" stroke-dasharray="2.4 2.37"/>
<line x1="406.1" y1="300.7" x2="558.5" y2="300.7" stroke="#ec4c50" stroke-width="0.85" stroke-dasharray="2.4 2.37"/>
<line x1="406.1" y1="277.4" x2="558.5" y2="277.4" stroke="#111" stroke-width="0.8"/>
<line x1="413.5" y1="273" x2="413.5" y2="281.8" stroke="#000" stroke-width="0.5" stroke-opacity="0.85"/>
<line x1="414" y1="273" x2="414" y2="281.8" stroke="#000" stroke-width="0.5" stroke-opacity="0.85"/>
<line x1="414.5" y1="273" x2="414.5" y2="281.8" stroke="#000" stroke-width="0.5" stroke-opacity="0.85"/>
<line x1="415.1" y1="273" x2="415.1" y2="281.8" stroke="#000" stroke-width="0.5" stroke-opacity="0.85"/>
<line x1="415.6" y1="273" x2="415.6" y2="281.8" stroke="#000" stroke-width="0.5" stroke-opacity="0.85"/>
<line x1="416.2" y1="273" x2="416.2" y2="281.8" stroke="#000" stroke-width="0.5" stroke-opacity="0.85"/>
<line x1="416.7" y1="273" x2="416.7" y2="281.8" stroke="#000" stroke-width="0.5" stroke-opacity="0.85"/>
<line x1="420.2" y1="273" x2="420.2" y2="281.8" stroke="#000" stroke-width="0.5" stroke-opacity="0.85"/>
<line x1="420.9" y1="273" x2="420.9" y2="281.8" stroke="#000" stroke-width="0.5" stroke-opacity="0.85"/>
<line x1="421.6" y1="273" x2="421.6" y2="281.8" stroke="#000" stroke-width="0.5" stroke-opacity="0.85"/>
<line x1="422.3" y1="273" x2="422.3" y2="281.8" stroke="#000" stroke-width="0.5" stroke-opacity="0.85"/>
<line x1="423" y1="273" x2="423" y2="281.8" stroke="#000" stroke-width="0.5" stroke-opacity="0.85"/>
<line x1="424.3" y1="273" x2="424.3" y2="281.8" stroke="#000" stroke-width="0.5" stroke-opacity="0.85"/>
<line x1="425" y1="273" x2="425" y2="281.8" stroke="#000" stroke-width="0.5" stroke-opacity="0.85"/>
<line x1="425.7" y1="273" x2="425.7" y2="281.8" stroke="#000" stroke-width="0.5" stroke-opacity="0.85"/>
<line x1="426.4" y1="273" x2="426.4" y2="281.8" stroke="#000" stroke-width="0.5" stroke-opacity="0.85"/>
<line x1="427" y1="273" x2="427" y2="281.8" stroke="#000" stroke-width="0.5" stroke-opacity="0.85"/>
<line x1="427.7" y1="273" x2="427.7" y2="281.8" stroke="#000" stroke-width="0.5" stroke-opacity="0.85"/>
<line x1="428.4" y1="273" x2="428.4" y2="281.8" stroke="#000" stroke-width="0.5" stroke-opacity="0.85"/>
<line x1="431.1" y1="273" x2="431.1" y2="281.8" stroke="#000" stroke-width="0.5" stroke-opacity="0.85"/>
<line x1="432.2" y1="273" x2="432.2" y2="281.8" stroke="#000" stroke-width="0.5" stroke-opacity="0.85"/>
<line x1="434.5" y1="273" x2="434.5" y2="281.8" stroke="#000" stroke-width="0.5" stroke-opacity="0.85"/>
<line x1="437.9" y1="273" x2="437.9" y2="281.8" stroke="#000" stroke-width="0.5" stroke-opacity="0.85"/>
<line x1="444.7" y1="273" x2="444.7" y2="281.8" stroke="#000" stroke-width="0.5" stroke-opacity="0.85"/>
<line x1="448.1" y1="273" x2="448.1" y2="281.8" stroke="#000" stroke-width="0.5" stroke-opacity="0.85"/>
<line x1="449.1" y1="273" x2="449.1" y2="281.8" stroke="#000" stroke-width="0.5" stroke-opacity="0.85"/>
<line x1="451.5" y1="273" x2="451.5" y2="281.8" stroke="#000" stroke-width="0.5" stroke-opacity="0.85"/>
<line x1="452.5" y1="273" x2="452.5" y2="281.8" stroke="#000" stroke-width="0.5" stroke-opacity="0.85"/>
<line x1="456.9" y1="273" x2="456.9" y2="281.8" stroke="#000" stroke-width="0.5" stroke-opacity="0.85"/>
<line x1="457.6" y1="273" x2="457.6" y2="281.8" stroke="#000" stroke-width="0.5" stroke-opacity="0.85"/>
<line x1="458.2" y1="273" x2="458.2" y2="281.8" stroke="#000" stroke-width="0.5" stroke-opacity="0.85"/>
<line x1="461.6" y1="273" x2="461.6" y2="281.8" stroke="#000" stroke-width="0.5" stroke-opacity="0.85"/>
<line x1="464.3" y1="273" x2="464.3" y2="281.8" stroke="#000" stroke-width="0.5" stroke-opacity="0.85"/>
<line x1="467.1" y1="273" x2="467.1" y2="281.8" stroke="#000" stroke-width="0.5" stroke-opacity="0.85"/>
<line x1="469.8" y1="273" x2="469.8" y2="281.8" stroke="#000" stroke-width="0.5" stroke-opacity="0.85"/>
<line x1="473.2" y1="273" x2="473.2" y2="281.8" stroke="#000" stroke-width="0.5" stroke-opacity="0.85"/>
<line x1="474.3" y1="273" x2="474.3" y2="281.8" stroke="#000" stroke-width="0.5" stroke-opacity="0.85"/>
<line x1="475.2" y1="273" x2="475.2" y2="281.8" stroke="#000" stroke-width="0.5" stroke-opacity="0.85"/>
<line x1="484.7" y1="273" x2="484.7" y2="281.8" stroke="#000" stroke-width="0.5" stroke-opacity="0.85"/>
<line x1="485.5" y1="273" x2="485.5" y2="281.8" stroke="#000" stroke-width="0.5" stroke-opacity="0.85"/>
<line x1="486.3" y1="273" x2="486.3" y2="281.8" stroke="#000" stroke-width="0.5" stroke-opacity="0.85"/>
<line x1="487.2" y1="273" x2="487.2" y2="281.8" stroke="#000" stroke-width="0.5" stroke-opacity="0.85"/>
<line x1="488" y1="273" x2="488" y2="281.8" stroke="#000" stroke-width="0.5" stroke-opacity="0.85"/>
<line x1="488.8" y1="273" x2="488.8" y2="281.8" stroke="#000" stroke-width="0.5" stroke-opacity="0.85"/>
<line x1="494.2" y1="273" x2="494.2" y2="281.8" stroke="#000" stroke-width="0.5" stroke-opacity="0.85"/>
<line x1="495.3" y1="273" x2="495.3" y2="281.8" stroke="#000" stroke-width="0.5" stroke-opacity="0.85"/>
<line x1="497.6" y1="273" x2="497.6" y2="281.8" stroke="#000" stroke-width="0.5" stroke-opacity="0.85"/>
<line x1="498.7" y1="273" x2="498.7" y2="281.8" stroke="#000" stroke-width="0.5" stroke-opacity="0.85"/>
<line x1="503.7" y1="273" x2="503.7" y2="281.8" stroke="#000" stroke-width="0.5" stroke-opacity="0.85"/>
<line x1="504.8" y1="273" x2="504.8" y2="281.8" stroke="#000" stroke-width="0.5" stroke-opacity="0.85"/>
<line x1="507.8" y1="273" x2="507.8" y2="281.8" stroke="#000" stroke-width="0.5" stroke-opacity="0.85"/>
<line x1="509.8" y1="273" x2="509.8" y2="281.8" stroke="#000" stroke-width="0.5" stroke-opacity="0.85"/>
<line x1="511.9" y1="273" x2="511.9" y2="281.8" stroke="#000" stroke-width="0.5" stroke-opacity="0.85"/>
<line x1="513.9" y1="273" x2="513.9" y2="281.8" stroke="#000" stroke-width="0.5" stroke-opacity="0.85"/>
<line x1="515.9" y1="273" x2="515.9" y2="281.8" stroke="#000" stroke-width="0.5" stroke-opacity="0.85"/>
<line x1="518.6" y1="273" x2="518.6" y2="281.8" stroke="#000" stroke-width="0.5" stroke-opacity="0.85"/>
<line x1="519.4" y1="273" x2="519.4" y2="281.8" stroke="#000" stroke-width="0.5" stroke-opacity="0.85"/>
<line x1="520.3" y1="273" x2="520.3" y2="281.8" stroke="#000" stroke-width="0.5" stroke-opacity="0.85"/>
<line x1="521.1" y1="273" x2="521.1" y2="281.8" stroke="#000" stroke-width="0.5" stroke-opacity="0.85"/>
<line x1="522.7" y1="273" x2="522.7" y2="281.8" stroke="#000" stroke-width="0.5" stroke-opacity="0.85"/>
<line x1="523.8" y1="273" x2="523.8" y2="281.8" stroke="#000" stroke-width="0.5" stroke-opacity="0.85"/>
<line x1="524.9" y1="273" x2="524.9" y2="281.8" stroke="#000" stroke-width="0.5" stroke-opacity="0.85"/>
<line x1="528.8" y1="273" x2="528.8" y2="281.8" stroke="#000" stroke-width="0.5" stroke-opacity="0.85"/>
<line x1="529.8" y1="273" x2="529.8" y2="281.8" stroke="#000" stroke-width="0.5" stroke-opacity="0.85"/>
<line x1="530.8" y1="273" x2="530.8" y2="281.8" stroke="#000" stroke-width="0.5" stroke-opacity="0.85"/>
<line x1="532.2" y1="273" x2="532.2" y2="281.8" stroke="#000" stroke-width="0.5" stroke-opacity="0.85"/>
<line x1="533.2" y1="273" x2="533.2" y2="281.8" stroke="#000" stroke-width="0.5" stroke-opacity="0.85"/>
<line x1="534.2" y1="273" x2="534.2" y2="281.8" stroke="#000" stroke-width="0.5" stroke-opacity="0.85"/>
<line x1="536.3" y1="273" x2="536.3" y2="281.8" stroke="#000" stroke-width="0.5" stroke-opacity="0.85"/>
<line x1="537" y1="273" x2="537" y2="281.8" stroke="#000" stroke-width="0.5" stroke-opacity="0.85"/>
<line x1="537.6" y1="273" x2="537.6" y2="281.8" stroke="#000" stroke-width="0.5" stroke-opacity="0.85"/>
<line x1="539" y1="273" x2="539" y2="281.8" stroke="#000" stroke-width="0.5" stroke-opacity="0.85"/>
<line x1="539.8" y1="273" x2="539.8" y2="281.8" stroke="#000" stroke-width="0.5" stroke-opacity="0.85"/>
<line x1="540.6" y1="273" x2="540.6" y2="281.8" stroke="#000" stroke-width="0.5" stroke-opacity="0.85"/>
<line x1="541.4" y1="273" x2="541.4" y2="281.8" stroke="#000" stroke-width="0.5" stroke-opacity="0.85"/>
<line x1="542.2" y1="273" x2="542.2" y2="281.8" stroke="#000" stroke-width="0.5" stroke-opacity="0.85"/>
<line x1="543.1" y1="273" x2="543.1" y2="281.8" stroke="#000" stroke-width="0.5" stroke-opacity="0.85"/>
<line x1="543.9" y1="273" x2="543.9" y2="281.8" stroke="#000" stroke-width="0.5" stroke-opacity="0.85"/>
<line x1="544.7" y1="273" x2="544.7" y2="281.8" stroke="#000" stroke-width="0.5" stroke-opacity="0.85"/>
<line x1="545.5" y1="273" x2="545.5" y2="281.8" stroke="#000" stroke-width="0.5" stroke-opacity="0.85"/>
<line x1="546.3" y1="273" x2="546.3" y2="281.8" stroke="#000" stroke-width="0.5" stroke-opacity="0.85"/>
<line x1="547.1" y1="273" x2="547.1" y2="281.8" stroke="#000" stroke-width="0.5" stroke-opacity="0.85"/>
<line x1="547.9" y1="273" x2="547.9" y2="281.8" stroke="#000" stroke-width="0.5" stroke-opacity="0.85"/>
<line x1="548.8" y1="273" x2="548.8" y2="281.8" stroke="#000" stroke-width="0.5" stroke-opacity="0.85"/>
<line x1="549.6" y1="273" x2="549.6" y2="281.8" stroke="#000" stroke-width="0.5" stroke-opacity="0.85"/>
<polyline points="413.6,277.4 413.73,275.17 413.87,273.61 414,271.4 414.13,269.6 414.27,267.18 414.4,265.1 414.66,263.39 414.92,261.45 415.18,259.76 415.44,258.21 415.7,256.6 415.95,254.61 416.2,253.1 416.45,250.85 416.7,249.2 417.07,247.15 417.43,245.94 417.8,243.9 419.5,244.5 422,242.8 424.2,241.8 425.25,240.22 426.3,238.6 427.35,236.79 428.4,235.4 430.1,233.9 432.2,235 434.7,236.8 436.02,237.85 437.35,238.57 438.68,239.89 440,240.9 441.34,242.12 442.68,242.99 444.01,243.83 445.35,244.51 446.69,245.51 448.02,246.33 449.36,247.63 450.7,248.4 452.04,249.48 453.38,250.69 454.71,251.49 456.05,252.48 457.39,253.9 458.72,255.07 460.06,256.05 461.4,256.9 462.59,258.16 463.78,259.25 464.97,260.28 466.16,261.05 467.34,262.3 468.53,263.28 469.72,264.16 470.91,265.24 472.1,266.6 473.45,267.48 474.8,268.48 476.15,269.75 477.5,270.92 478.85,271.63 480.2,272.94 481.55,273.98 482.9,274.7 484.6,275.72 486.3,276.12 488,276.78 489.7,277.7 491,278.67 492.3,279.78 493.6,281.1 494.94,281.92 496.28,283.17 497.61,284.34 498.95,285.3 500.29,286.09 501.62,287.19 502.96,288.28 504.3,289.1 505.73,289.67 507.17,290.83 508.6,291.8 510.03,292.54 511.47,293.33 512.9,294 514.5,294.59 516.1,295.01 517.7,295.97 519.3,296.4 520.9,296.55 522.5,296.9 524.1,296.93 525.7,296.6 527.85,297.93 530,298.7 531.8,299.04 533.6,299.44 535.4,299.9 537,299.57 538.6,298.7 540.03,297.4 541.47,295.64 542.9,294.4 544.3,292.74 545.7,291.32 547.1,290.1 547.92,288.84 548.75,287.28 549.58,285.39 550.4,284.1 550.65,282.7 550.9,281.19 551.15,279.39 551.4,277.7" fill="none" stroke="#5B2892" stroke-width="2.1" stroke-linejoin="round" stroke-linecap="round"/>
<rect x="406.1" y="230.3" width="152.4" height="74.1" fill="none" stroke="#454545" stroke-width="0.6"/>
<line x1="404.2" y1="300.34" x2="406.1" y2="300.34" stroke="#333" stroke-width="0.7"/>
<text x="403.2" y="302.94" font-size="6.7" text-anchor="end" font-weight="normal" fill="#333" stroke="#333" stroke-width="0.16">-0.2</text>
<line x1="404.2" y1="277.4" x2="406.1" y2="277.4" stroke="#333" stroke-width="0.7"/>
<text x="403.2" y="280" font-size="6.7" text-anchor="end" font-weight="normal" fill="#333" stroke="#333" stroke-width="0.16">0.0</text>
<line x1="404.2" y1="254.46" x2="406.1" y2="254.46" stroke="#333" stroke-width="0.7"/>
<text x="403.2" y="257.06" font-size="6.7" text-anchor="end" font-weight="normal" fill="#333" stroke="#333" stroke-width="0.16">0.2</text>
<line x1="404.2" y1="231.52" x2="406.1" y2="231.52" stroke="#333" stroke-width="0.7"/>
<text x="403.2" y="234.12" font-size="6.7" text-anchor="end" font-weight="normal" fill="#333" stroke="#333" stroke-width="0.16">0.4</text>
<line x1="413.6" y1="304.4" x2="413.6" y2="306.3" stroke="#333" stroke-width="0.7"/>
<text x="413.6" y="311.7" font-size="6.7" text-anchor="middle" font-weight="normal" fill="#333" stroke="#333" stroke-width="0.16">0</text>
<line x1="433.3" y1="304.4" x2="433.3" y2="306.3" stroke="#333" stroke-width="0.7"/>
<text x="433.3" y="311.7" font-size="6.7" text-anchor="middle" font-weight="normal" fill="#333" stroke="#333" stroke-width="0.16">2</text>
<line x1="453" y1="304.4" x2="453" y2="306.3" stroke="#333" stroke-width="0.7"/>
<text x="453" y="311.7" font-size="6.7" text-anchor="middle" font-weight="normal" fill="#333" stroke="#333" stroke-width="0.16">4</text>
<line x1="472.7" y1="304.4" x2="472.7" y2="306.3" stroke="#333" stroke-width="0.7"/>
<text x="472.7" y="311.7" font-size="6.7" text-anchor="middle" font-weight="normal" fill="#333" stroke="#333" stroke-width="0.16">6</text>
<line x1="492.4" y1="304.4" x2="492.4" y2="306.3" stroke="#333" stroke-width="0.7"/>
<text x="492.4" y="311.7" font-size="6.7" text-anchor="middle" font-weight="normal" fill="#333" stroke="#333" stroke-width="0.16">8</text>
<line x1="512.1" y1="304.4" x2="512.1" y2="306.3" stroke="#333" stroke-width="0.7"/>
<text x="512.1" y="311.7" font-size="6.7" text-anchor="middle" font-weight="normal" fill="#333" stroke="#333" stroke-width="0.16">10</text>
<line x1="531.8" y1="304.4" x2="531.8" y2="306.3" stroke="#333" stroke-width="0.7"/>
<text x="531.8" y="311.7" font-size="6.7" text-anchor="middle" font-weight="normal" fill="#333" stroke="#333" stroke-width="0.16">12</text>
<line x1="551.5" y1="304.4" x2="551.5" y2="306.3" stroke="#333" stroke-width="0.7"/>
<text x="551.5" y="311.7" font-size="6.7" text-anchor="middle" font-weight="normal" fill="#333" stroke="#333" stroke-width="0.16">14</text>
<text x="406.3" y="225.9" font-size="7.4" text-anchor="start" font-weight="bold" fill="#000">SKOV3: KRAS Signaling Up</text>
<text x="482.3" y="319.9" font-size="7.4" text-anchor="middle" font-weight="normal" fill="#000">Rank (x1000)</text>
<text transform="translate(388.9,267.5) rotate(-90)" font-size="7.4" text-anchor="middle" font-weight="normal" fill="#000">Enrichment score</text>
<rect x="48.3" y="378.5" width="510.3" height="73.7" fill="#fff" stroke="none" stroke-width="0.5"/>
<line x1="54.2" y1="378.5" x2="54.2" y2="452.2" stroke="#e2e2e2" stroke-width="0.6"/>
<line x1="64.37" y1="378.5" x2="64.37" y2="452.2" stroke="#e2e2e2" stroke-width="0.6"/>
<line x1="74.53" y1="378.5" x2="74.53" y2="452.2" stroke="#e2e2e2" stroke-width="0.6"/>
<line x1="84.7" y1="378.5" x2="84.7" y2="452.2" stroke="#e2e2e2" stroke-width="0.6"/>
<line x1="94.87" y1="378.5" x2="94.87" y2="452.2" stroke="#e2e2e2" stroke-width="0.6"/>
<line x1="105.03" y1="378.5" x2="105.03" y2="452.2" stroke="#e2e2e2" stroke-width="0.6"/>
<line x1="115.2" y1="378.5" x2="115.2" y2="452.2" stroke="#e2e2e2" stroke-width="0.6"/>
<line x1="125.37" y1="378.5" x2="125.37" y2="452.2" stroke="#e2e2e2" stroke-width="0.6"/>
<line x1="135.54" y1="378.5" x2="135.54" y2="452.2" stroke="#e2e2e2" stroke-width="0.6"/>
<line x1="145.7" y1="378.5" x2="145.7" y2="452.2" stroke="#e2e2e2" stroke-width="0.6"/>
<line x1="155.87" y1="378.5" x2="155.87" y2="452.2" stroke="#e2e2e2" stroke-width="0.6"/>
<line x1="166.04" y1="378.5" x2="166.04" y2="452.2" stroke="#e2e2e2" stroke-width="0.6"/>
<line x1="176.2" y1="378.5" x2="176.2" y2="452.2" stroke="#e2e2e2" stroke-width="0.6"/>
<line x1="186.37" y1="378.5" x2="186.37" y2="452.2" stroke="#e2e2e2" stroke-width="0.6"/>
<line x1="196.54" y1="378.5" x2="196.54" y2="452.2" stroke="#e2e2e2" stroke-width="0.6"/>
<line x1="206.7" y1="378.5" x2="206.7" y2="452.2" stroke="#e2e2e2" stroke-width="0.6"/>
<line x1="216.87" y1="378.5" x2="216.87" y2="452.2" stroke="#e2e2e2" stroke-width="0.6"/>
<line x1="227.04" y1="378.5" x2="227.04" y2="452.2" stroke="#e2e2e2" stroke-width="0.6"/>
<line x1="237.21" y1="378.5" x2="237.21" y2="452.2" stroke="#e2e2e2" stroke-width="0.6"/>
<line x1="247.37" y1="378.5" x2="247.37" y2="452.2" stroke="#e2e2e2" stroke-width="0.6"/>
<line x1="257.54" y1="378.5" x2="257.54" y2="452.2" stroke="#e2e2e2" stroke-width="0.6"/>
<line x1="267.71" y1="378.5" x2="267.71" y2="452.2" stroke="#e2e2e2" stroke-width="0.6"/>
<line x1="277.87" y1="378.5" x2="277.87" y2="452.2" stroke="#e2e2e2" stroke-width="0.6"/>
<line x1="288.04" y1="378.5" x2="288.04" y2="452.2" stroke="#e2e2e2" stroke-width="0.6"/>
<line x1="298.21" y1="378.5" x2="298.21" y2="452.2" stroke="#e2e2e2" stroke-width="0.6"/>
<line x1="308.38" y1="378.5" x2="308.38" y2="452.2" stroke="#e2e2e2" stroke-width="0.6"/>
<line x1="318.54" y1="378.5" x2="318.54" y2="452.2" stroke="#e2e2e2" stroke-width="0.6"/>
<line x1="328.71" y1="378.5" x2="328.71" y2="452.2" stroke="#e2e2e2" stroke-width="0.6"/>
<line x1="338.88" y1="378.5" x2="338.88" y2="452.2" stroke="#e2e2e2" stroke-width="0.6"/>
<line x1="349.04" y1="378.5" x2="349.04" y2="452.2" stroke="#e2e2e2" stroke-width="0.6"/>
<line x1="359.21" y1="378.5" x2="359.21" y2="452.2" stroke="#e2e2e2" stroke-width="0.6"/>
<line x1="369.38" y1="378.5" x2="369.38" y2="452.2" stroke="#e2e2e2" stroke-width="0.6"/>
<line x1="379.54" y1="378.5" x2="379.54" y2="452.2" stroke="#e2e2e2" stroke-width="0.6"/>
<line x1="389.71" y1="378.5" x2="389.71" y2="452.2" stroke="#e2e2e2" stroke-width="0.6"/>
<line x1="399.88" y1="378.5" x2="399.88" y2="452.2" stroke="#e2e2e2" stroke-width="0.6"/>
<line x1="410.04" y1="378.5" x2="410.04" y2="452.2" stroke="#e2e2e2" stroke-width="0.6"/>
<line x1="420.21" y1="378.5" x2="420.21" y2="452.2" stroke="#e2e2e2" stroke-width="0.6"/>
<line x1="430.38" y1="378.5" x2="430.38" y2="452.2" stroke="#e2e2e2" stroke-width="0.6"/>
<line x1="440.55" y1="378.5" x2="440.55" y2="452.2" stroke="#e2e2e2" stroke-width="0.6"/>
<line x1="450.71" y1="378.5" x2="450.71" y2="452.2" stroke="#e2e2e2" stroke-width="0.6"/>
<line x1="460.88" y1="378.5" x2="460.88" y2="452.2" stroke="#e2e2e2" stroke-width="0.6"/>
<line x1="471.05" y1="378.5" x2="471.05" y2="452.2" stroke="#e2e2e2" stroke-width="0.6"/>
<line x1="481.21" y1="378.5" x2="481.21" y2="452.2" stroke="#e2e2e2" stroke-width="0.6"/>
<line x1="491.38" y1="378.5" x2="491.38" y2="452.2" stroke="#e2e2e2" stroke-width="0.6"/>
<line x1="501.55" y1="378.5" x2="501.55" y2="452.2" stroke="#e2e2e2" stroke-width="0.6"/>
<line x1="511.71" y1="378.5" x2="511.71" y2="452.2" stroke="#e2e2e2" stroke-width="0.6"/>
<line x1="521.88" y1="378.5" x2="521.88" y2="452.2" stroke="#e2e2e2" stroke-width="0.6"/>
<line x1="532.05" y1="378.5" x2="532.05" y2="452.2" stroke="#e2e2e2" stroke-width="0.6"/>
<line x1="542.22" y1="378.5" x2="542.22" y2="452.2" stroke="#e2e2e2" stroke-width="0.6"/>
<line x1="552.38" y1="378.5" x2="552.38" y2="452.2" stroke="#e2e2e2" stroke-width="0.6"/>
<line x1="48.3" y1="392.4" x2="558.6" y2="392.4" stroke="#e2e2e2" stroke-width="0.6"/>
<line x1="48.3" y1="415.5" x2="558.6" y2="415.5" stroke="#e2e2e2" stroke-width="0.6"/>
<line x1="48.3" y1="438.6" x2="558.6" y2="438.6" stroke="#e2e2e2" stroke-width="0.6"/>
<polygon points="54.2,396.96 58.15,390.12 50.25,390.12" fill="#5B2892" stroke="#333" stroke-width="0.4" stroke-linejoin="miter"/>
<polygon points="64.37,396.96 68.32,390.12 60.42,390.12" fill="#5B2892" stroke="#333" stroke-width="0.4" stroke-linejoin="miter"/>
<polygon points="74.53,396.96 78.48,390.12 70.58,390.12" fill="#5B2892" stroke="#333" stroke-width="0.4" stroke-linejoin="miter"/>
<polygon points="84.7,394.54 86.55,391.33 82.85,391.33" fill="#e2e2e2" stroke="#333" stroke-width="0.4" stroke-linejoin="miter"/>
<polygon points="94.87,396.04 98.02,390.58 91.72,390.58" fill="#5B2892" stroke="#333" stroke-width="0.4" stroke-linejoin="miter"/>
<polygon points="105.03,396.04 108.19,390.58 101.88,390.58" fill="#e2e2e2" stroke="#333" stroke-width="0.4" stroke-linejoin="miter"/>
<polygon points="115.2,394.54 117.05,391.33 113.35,391.33" fill="#e2e2e2" stroke="#333" stroke-width="0.4" stroke-linejoin="miter"/>
<polygon points="125.37,396.04 128.52,390.58 122.22,390.58" fill="#5B2892" stroke="#333" stroke-width="0.4" stroke-linejoin="miter"/>
<polygon points="135.54,396.04 138.69,390.58 132.39,390.58" fill="#5B2892" stroke="#333" stroke-width="0.4" stroke-linejoin="miter"/>
<polygon points="145.7,388.76 148.85,394.22 142.55,394.22" fill="#e2e2e2" stroke="#333" stroke-width="0.4" stroke-linejoin="miter"/>
<polygon points="155.87,396.04 159.02,390.58 152.72,390.58" fill="#e2e2e2" stroke="#333" stroke-width="0.4" stroke-linejoin="miter"/>
<polygon points="166.04,396.04 169.19,390.58 162.89,390.58" fill="#e2e2e2" stroke="#333" stroke-width="0.4" stroke-linejoin="miter"/>
<polygon points="176.2,396.04 179.35,390.58 173.05,390.58" fill="#e2e2e2" stroke="#333" stroke-width="0.4" stroke-linejoin="miter"/>
<polygon points="186.37,396.04 189.52,390.58 183.22,390.58" fill="#5B2892" stroke="#333" stroke-width="0.4" stroke-linejoin="miter"/>
<polygon points="196.54,394.54 198.39,391.33 194.69,391.33" fill="#e2e2e2" stroke="#333" stroke-width="0.4" stroke-linejoin="miter"/>
<polygon points="206.7,388.76 209.85,394.22 203.55,394.22" fill="#e2e2e2" stroke="#333" stroke-width="0.4" stroke-linejoin="miter"/>
<polygon points="216.87,396.04 220.02,390.58 213.72,390.58" fill="#e2e2e2" stroke="#333" stroke-width="0.4" stroke-linejoin="miter"/>
<polygon points="227.04,396.04 230.19,390.58 223.89,390.58" fill="#e2e2e2" stroke="#333" stroke-width="0.4" stroke-linejoin="miter"/>
<polygon points="237.21,394.54 239.06,391.33 235.36,391.33" fill="#e2e2e2" stroke="#333" stroke-width="0.4" stroke-linejoin="miter"/>
<polygon points="247.37,396.04 250.52,390.58 244.22,390.58" fill="#e2e2e2" stroke="#333" stroke-width="0.4" stroke-linejoin="miter"/>
<polygon points="257.54,396.04 260.69,390.58 254.39,390.58" fill="#e2e2e2" stroke="#333" stroke-width="0.4" stroke-linejoin="miter"/>
<polygon points="267.71,396.04 270.86,390.58 264.56,390.58" fill="#e2e2e2" stroke="#333" stroke-width="0.4" stroke-linejoin="miter"/>
<polygon points="277.87,396.04 281.02,390.58 274.72,390.58" fill="#e2e2e2" stroke="#333" stroke-width="0.4" stroke-linejoin="miter"/>
<polygon points="288.04,396.96 291.99,390.12 284.09,390.12" fill="#5B2892" stroke="#333" stroke-width="0.4" stroke-linejoin="miter"/>
<polygon points="298.21,394.54 300.06,391.33 296.36,391.33" fill="#e2e2e2" stroke="#333" stroke-width="0.4" stroke-linejoin="miter"/>
<polygon points="308.38,394.54 310.23,391.33 306.52,391.33" fill="#e2e2e2" stroke="#333" stroke-width="0.4" stroke-linejoin="miter"/>
<polygon points="318.54,396.04 321.69,390.58 315.39,390.58" fill="#5B2892" stroke="#333" stroke-width="0.4" stroke-linejoin="miter"/>
<polygon points="328.71,388.76 331.86,394.22 325.56,394.22" fill="#e2e2e2" stroke="#333" stroke-width="0.4" stroke-linejoin="miter"/>
<polygon points="338.88,390.26 340.73,393.47 337.03,393.47" fill="#e2e2e2" stroke="#333" stroke-width="0.4" stroke-linejoin="miter"/>
<polygon points="349.04,394.54 350.89,391.33 347.19,391.33" fill="#e2e2e2" stroke="#333" stroke-width="0.4" stroke-linejoin="miter"/>
<polygon points="359.21,396.04 362.36,390.58 356.06,390.58" fill="#5B2892" stroke="#333" stroke-width="0.4" stroke-linejoin="miter"/>
<polygon points="369.38,394.54 371.23,391.33 367.53,391.33" fill="#e2e2e2" stroke="#333" stroke-width="0.4" stroke-linejoin="miter"/>
<polygon points="379.54,396.04 382.69,390.58 376.39,390.58" fill="#e2e2e2" stroke="#333" stroke-width="0.4" stroke-linejoin="miter"/>
<polygon points="389.71,396.04 392.86,390.58 386.56,390.58" fill="#e2e2e2" stroke="#333" stroke-width="0.4" stroke-linejoin="miter"/>
<polygon points="399.88,394.54 401.73,391.33 398.03,391.33" fill="#e2e2e2" stroke="#333" stroke-width="0.4" stroke-linejoin="miter"/>
<polygon points="410.04,396.04 413.19,390.58 406.89,390.58" fill="#e2e2e2" stroke="#333" stroke-width="0.4" stroke-linejoin="miter"/>
<polygon points="420.21,394.54 422.06,391.33 418.36,391.33" fill="#e2e2e2" stroke="#333" stroke-width="0.4" stroke-linejoin="miter"/>
<polygon points="430.38,390.26 432.23,393.47 428.53,393.47" fill="#e2e2e2" stroke="#333" stroke-width="0.4" stroke-linejoin="miter"/>
<polygon points="440.55,388.76 443.7,394.22 437.4,394.22" fill="#e2e2e2" stroke="#333" stroke-width="0.4" stroke-linejoin="miter"/>
<polygon points="450.71,388.76 453.86,394.22 447.56,394.22" fill="#e2e2e2" stroke="#333" stroke-width="0.4" stroke-linejoin="miter"/>
<polygon points="460.88,388.76 464.03,394.22 457.73,394.22" fill="#e2e2e2" stroke="#333" stroke-width="0.4" stroke-linejoin="miter"/>
<polygon points="471.05,388.76 474.2,394.22 467.9,394.22" fill="#5B2892" stroke="#333" stroke-width="0.4" stroke-linejoin="miter"/>
<polygon points="481.21,388.76 484.36,394.22 478.06,394.22" fill="#e2e2e2" stroke="#333" stroke-width="0.4" stroke-linejoin="miter"/>
<polygon points="491.38,388.76 494.53,394.22 488.23,394.22" fill="#e2e2e2" stroke="#333" stroke-width="0.4" stroke-linejoin="miter"/>
<polygon points="501.55,388.76 504.7,394.22 498.4,394.22" fill="#5B2892" stroke="#333" stroke-width="0.4" stroke-linejoin="miter"/>
<polygon points="511.71,388.76 514.87,394.22 508.56,394.22" fill="#5B2892" stroke="#333" stroke-width="0.4" stroke-linejoin="miter"/>
<polygon points="521.88,388.76 525.03,394.22 518.73,394.22" fill="#5B2892" stroke="#333" stroke-width="0.4" stroke-linejoin="miter"/>
<polygon points="532.05,388.76 535.2,394.22 528.9,394.22" fill="#5B2892" stroke="#333" stroke-width="0.4" stroke-linejoin="miter"/>
<polygon points="542.22,387.84 546.17,394.68 538.27,394.68" fill="#5B2892" stroke="#333" stroke-width="0.4" stroke-linejoin="miter"/>
<polygon points="552.38,388.76 555.53,394.22 549.23,394.22" fill="#5B2892" stroke="#333" stroke-width="0.4" stroke-linejoin="miter"/>
<polygon points="54.2,420.87 58.85,412.82 49.55,412.82" fill="#70C1FB" stroke="#333" stroke-width="0.4" stroke-linejoin="miter"/>
<polygon points="64.37,420.87 69.02,412.82 59.72,412.82" fill="#70C1FB" stroke="#333" stroke-width="0.4" stroke-linejoin="miter"/>
<polygon points="74.53,420.06 78.48,413.22 70.58,413.22" fill="#70C1FB" stroke="#333" stroke-width="0.4" stroke-linejoin="miter"/>
<polygon points="84.7,419.14 87.85,413.68 81.55,413.68" fill="#70C1FB" stroke="#333" stroke-width="0.4" stroke-linejoin="miter"/>
<polygon points="94.87,419.14 98.02,413.68 91.72,413.68" fill="#e2e2e2" stroke="#333" stroke-width="0.4" stroke-linejoin="miter"/>
<polygon points="105.03,419.14 108.19,413.68 101.88,413.68" fill="#70C1FB" stroke="#333" stroke-width="0.4" stroke-linejoin="miter"/>
<polygon points="115.2,411.86 118.35,417.32 112.05,417.32" fill="#e2e2e2" stroke="#333" stroke-width="0.4" stroke-linejoin="miter"/>
<polygon points="125.37,411.86 128.52,417.32 122.22,417.32" fill="#e2e2e2" stroke="#333" stroke-width="0.4" stroke-linejoin="miter"/>
<polygon points="135.54,413.36 137.39,416.57 133.69,416.57" fill="#e2e2e2" stroke="#333" stroke-width="0.4" stroke-linejoin="miter"/>
<polygon points="145.7,419.14 148.85,413.68 142.55,413.68" fill="#e2e2e2" stroke="#333" stroke-width="0.4" stroke-linejoin="miter"/>
<polygon points="155.87,413.36 157.72,416.57 154.02,416.57" fill="#e2e2e2" stroke="#333" stroke-width="0.4" stroke-linejoin="miter"/>
<polygon points="166.04,413.36 167.89,416.57 164.19,416.57" fill="#e2e2e2" stroke="#333" stroke-width="0.4" stroke-linejoin="miter"/>
<polygon points="176.2,411.86 179.35,417.32 173.05,417.32" fill="#e2e2e2" stroke="#333" stroke-width="0.4" stroke-linejoin="miter"/>
<polygon points="186.37,411.86 189.52,417.32 183.22,417.32" fill="#e2e2e2" stroke="#333" stroke-width="0.4" stroke-linejoin="miter"/>
<polygon points="196.54,419.14 199.69,413.68 193.39,413.68" fill="#e2e2e2" stroke="#333" stroke-width="0.4" stroke-linejoin="miter"/>
<polygon points="206.7,417.64 208.55,414.43 204.85,414.43" fill="#e2e2e2" stroke="#333" stroke-width="0.4" stroke-linejoin="miter"/>
<polygon points="216.87,411.86 220.02,417.32 213.72,417.32" fill="#e2e2e2" stroke="#333" stroke-width="0.4" stroke-linejoin="miter"/>
<polygon points="227.04,417.64 228.89,414.43 225.19,414.43" fill="#e2e2e2" stroke="#333" stroke-width="0.4" stroke-linejoin="miter"/>
<polygon points="237.21,413.36 239.06,416.57 235.36,416.57" fill="#e2e2e2" stroke="#333" stroke-width="0.4" stroke-linejoin="miter"/>
<polygon points="247.37,411.86 250.52,417.32 244.22,417.32" fill="#e2e2e2" stroke="#333" stroke-width="0.4" stroke-linejoin="miter"/>
<polygon points="257.54,413.36 259.39,416.57 255.69,416.57" fill="#e2e2e2" stroke="#333" stroke-width="0.4" stroke-linejoin="miter"/>
<polygon points="267.71,413.36 269.56,416.57 265.86,416.57" fill="#e2e2e2" stroke="#333" stroke-width="0.4" stroke-linejoin="miter"/>
<polygon points="277.87,411.86 281.02,417.32 274.72,417.32" fill="#e2e2e2" stroke="#333" stroke-width="0.4" stroke-linejoin="miter"/>
<polygon points="288.04,411.86 291.19,417.32 284.89,417.32" fill="#e2e2e2" stroke="#333" stroke-width="0.4" stroke-linejoin="miter"/>
<polygon points="298.21,413.36 300.06,416.57 296.36,416.57" fill="#e2e2e2" stroke="#333" stroke-width="0.4" stroke-linejoin="miter"/>
<polygon points="308.38,413.36 310.23,416.57 306.52,416.57" fill="#e2e2e2" stroke="#333" stroke-width="0.4" stroke-linejoin="miter"/>
<polygon points="318.54,411.86 321.69,417.32 315.39,417.32" fill="#70C1FB" stroke="#333" stroke-width="0.4" stroke-linejoin="miter"/>
<polygon points="328.71,411.86 331.86,417.32 325.56,417.32" fill="#70C1FB" stroke="#333" stroke-width="0.4" stroke-linejoin="miter"/>
<polygon points="338.88,417.64 340.73,414.43 337.03,414.43" fill="#e2e2e2" stroke="#333" stroke-width="0.4" stroke-linejoin="miter"/>
<polygon points="349.04,413.36 350.89,416.57 347.19,416.57" fill="#e2e2e2" stroke="#333" stroke-width="0.4" stroke-linejoin="miter"/>
<polygon points="359.21,411.86 362.36,417.32 356.06,417.32" fill="#70C1FB" stroke="#333" stroke-width="0.4" stroke-linejoin="miter"/>
<polygon points="369.38,413.36 371.23,416.57 367.53,416.57" fill="#e2e2e2" stroke="#333" stroke-width="0.4" stroke-linejoin="miter"/>
<polygon points="379.54,411.86 382.69,417.32 376.39,417.32" fill="#e2e2e2" stroke="#333" stroke-width="0.4" stroke-linejoin="miter"/>
<polygon points="389.71,411.86 392.86,417.32 386.56,417.32" fill="#70C1FB" stroke="#333" stroke-width="0.4" stroke-linejoin="miter"/>
<polygon points="399.88,411.86 403.03,417.32 396.73,417.32" fill="#70C1FB" stroke="#333" stroke-width="0.4" stroke-linejoin="miter"/>
<polygon points="410.04,411.86 413.19,417.32 406.89,417.32" fill="#70C1FB" stroke="#333" stroke-width="0.4" stroke-linejoin="miter"/>
<polygon points="420.21,410.94 424.16,417.78 416.26,417.78" fill="#70C1FB" stroke="#333" stroke-width="0.4" stroke-linejoin="miter"/>
<polygon points="430.38,411.86 433.53,417.32 427.23,417.32" fill="#e2e2e2" stroke="#333" stroke-width="0.4" stroke-linejoin="miter"/>
<polygon points="440.55,411.86 443.7,417.32 437.4,417.32" fill="#70C1FB" stroke="#333" stroke-width="0.4" stroke-linejoin="miter"/>
<polygon points="450.71,411.86 453.86,417.32 447.56,417.32" fill="#70C1FB" stroke="#333" stroke-width="0.4" stroke-linejoin="miter"/>
<polygon points="460.88,411.86 464.03,417.32 457.73,417.32" fill="#70C1FB" stroke="#333" stroke-width="0.4" stroke-linejoin="miter"/>
<polygon points="471.05,411.86 474.2,417.32 467.9,417.32" fill="#70C1FB" stroke="#333" stroke-width="0.4" stroke-linejoin="miter"/>
<polygon points="481.21,411.86 484.36,417.32 478.06,417.32" fill="#70C1FB" stroke="#333" stroke-width="0.4" stroke-linejoin="miter"/>
<polygon points="491.38,410.94 495.33,417.78 487.43,417.78" fill="#70C1FB" stroke="#333" stroke-width="0.4" stroke-linejoin="miter"/>
<polygon points="501.55,411.86 504.7,417.32 498.4,417.32" fill="#70C1FB" stroke="#333" stroke-width="0.4" stroke-linejoin="miter"/>
<polygon points="511.71,411.86 514.87,417.32 508.56,417.32" fill="#70C1FB" stroke="#333" stroke-width="0.4" stroke-linejoin="miter"/>
<polygon points="521.88,411.86 525.03,417.32 518.73,417.32" fill="#70C1FB" stroke="#333" stroke-width="0.4" stroke-linejoin="miter"/>
<polygon points="532.05,411.86 535.2,417.32 528.9,417.32" fill="#70C1FB" stroke="#333" stroke-width="0.4" stroke-linejoin="miter"/>
<polygon points="542.22,410.94 546.17,417.78 538.27,417.78" fill="#70C1FB" stroke="#333" stroke-width="0.4" stroke-linejoin="miter"/>
<polygon points="552.38,410.94 556.33,417.78 548.43,417.78" fill="#70C1FB" stroke="#333" stroke-width="0.4" stroke-linejoin="miter"/>
<polygon points="54.2,443.97 58.85,435.92 49.55,435.92" fill="#4F8C21" stroke="#333" stroke-width="0.4" stroke-linejoin="miter"/>
<polygon points="64.37,443.97 69.02,435.92 59.72,435.92" fill="#4F8C21" stroke="#333" stroke-width="0.4" stroke-linejoin="miter"/>
<polygon points="74.53,443.16 78.48,436.32 70.58,436.32" fill="#4F8C21" stroke="#333" stroke-width="0.4" stroke-linejoin="miter"/>
<polygon points="84.7,443.16 88.65,436.32 80.75,436.32" fill="#4F8C21" stroke="#333" stroke-width="0.4" stroke-linejoin="miter"/>
<polygon points="94.87,442.24 98.02,436.78 91.72,436.78" fill="#e2e2e2" stroke="#333" stroke-width="0.4" stroke-linejoin="miter"/>
<polygon points="105.03,442.24 108.19,436.78 101.88,436.78" fill="#e2e2e2" stroke="#333" stroke-width="0.4" stroke-linejoin="miter"/>
<polygon points="115.2,443.16 119.15,436.32 111.25,436.32" fill="#4F8C21" stroke="#333" stroke-width="0.4" stroke-linejoin="miter"/>
<polygon points="125.37,442.24 128.52,436.78 122.22,436.78" fill="#e2e2e2" stroke="#333" stroke-width="0.4" stroke-linejoin="miter"/>
<polygon points="135.54,440.74 137.39,437.53 133.69,437.53" fill="#e2e2e2" stroke="#333" stroke-width="0.4" stroke-linejoin="miter"/>
<polygon points="145.7,442.24 148.85,436.78 142.55,436.78" fill="#e2e2e2" stroke="#333" stroke-width="0.4" stroke-linejoin="miter"/>
<polygon points="155.87,442.24 159.02,436.78 152.72,436.78" fill="#e2e2e2" stroke="#333" stroke-width="0.4" stroke-linejoin="miter"/>
<polygon points="166.04,440.74 167.89,437.53 164.19,437.53" fill="#e2e2e2" stroke="#333" stroke-width="0.4" stroke-linejoin="miter"/>
<polygon points="176.2,442.24 179.35,436.78 173.05,436.78" fill="#e2e2e2" stroke="#333" stroke-width="0.4" stroke-linejoin="miter"/>
<polygon points="186.37,440.74 188.22,437.53 184.52,437.53" fill="#e2e2e2" stroke="#333" stroke-width="0.4" stroke-linejoin="miter"/>
<polygon points="196.54,434.96 199.69,440.42 193.39,440.42" fill="#e2e2e2" stroke="#333" stroke-width="0.4" stroke-linejoin="miter"/>
<polygon points="206.7,442.24 209.85,436.78 203.55,436.78" fill="#e2e2e2" stroke="#333" stroke-width="0.4" stroke-linejoin="miter"/>
<polygon points="216.87,442.24 220.02,436.78 213.72,436.78" fill="#e2e2e2" stroke="#333" stroke-width="0.4" stroke-linejoin="miter"/>
<polygon points="227.04,436.46 228.89,439.67 225.19,439.67" fill="#e2e2e2" stroke="#333" stroke-width="0.4" stroke-linejoin="miter"/>
<polygon points="237.21,440.74 239.06,437.53 235.36,437.53" fill="#e2e2e2" stroke="#333" stroke-width="0.4" stroke-linejoin="miter"/>
<polygon points="247.37,440.74 249.22,437.53 245.52,437.53" fill="#e2e2e2" stroke="#333" stroke-width="0.4" stroke-linejoin="miter"/>
<polygon points="257.54,436.46 259.39,439.67 255.69,439.67" fill="#e2e2e2" stroke="#333" stroke-width="0.4" stroke-linejoin="miter"/>
<polygon points="267.71,436.46 269.56,439.67 265.86,439.67" fill="#e2e2e2" stroke="#333" stroke-width="0.4" stroke-linejoin="miter"/>
<polygon points="277.87,434.96 281.02,440.42 274.72,440.42" fill="#e2e2e2" stroke="#333" stroke-width="0.4" stroke-linejoin="miter"/>
<polygon points="288.04,434.96 291.19,440.42 284.89,440.42" fill="#e2e2e2" stroke="#333" stroke-width="0.4" stroke-linejoin="miter"/>
<polygon points="298.21,434.96 301.36,440.42 295.06,440.42" fill="#e2e2e2" stroke="#333" stroke-width="0.4" stroke-linejoin="miter"/>
<polygon points="308.38,434.96 311.52,440.42 305.23,440.42" fill="#4F8C21" stroke="#333" stroke-width="0.4" stroke-linejoin="miter"/>
<polygon points="318.54,434.96 321.69,440.42 315.39,440.42" fill="#e2e2e2" stroke="#333" stroke-width="0.4" stroke-linejoin="miter"/>
<polygon points="328.71,440.74 330.56,437.53 326.86,437.53" fill="#e2e2e2" stroke="#333" stroke-width="0.4" stroke-linejoin="miter"/>
<polygon points="338.88,434.96 342.03,440.42 335.73,440.42" fill="#4F8C21" stroke="#333" stroke-width="0.4" stroke-linejoin="miter"/>
<polygon points="349.04,434.96 352.19,440.42 345.89,440.42" fill="#4F8C21" stroke="#333" stroke-width="0.4" stroke-linejoin="miter"/>
<polygon points="359.21,434.96 362.36,440.42 356.06,440.42" fill="#4F8C21" stroke="#333" stroke-width="0.4" stroke-linejoin="miter"/>
<polygon points="369.38,434.96 372.53,440.42 366.23,440.42" fill="#4F8C21" stroke="#333" stroke-width="0.4" stroke-linejoin="miter"/>
<polygon points="379.54,434.96 382.69,440.42 376.39,440.42" fill="#4F8C21" stroke="#333" stroke-width="0.4" stroke-linejoin="miter"/>
<polygon points="389.71,434.96 392.86,440.42 386.56,440.42" fill="#4F8C21" stroke="#333" stroke-width="0.4" stroke-linejoin="miter"/>
<polygon points="399.88,434.96 403.03,440.42 396.73,440.42" fill="#4F8C21" stroke="#333" stroke-width="0.4" stroke-linejoin="miter"/>
<polygon points="410.04,434.96 413.19,440.42 406.89,440.42" fill="#4F8C21" stroke="#333" stroke-width="0.4" stroke-linejoin="miter"/>
<polygon points="420.21,434.96 423.36,440.42 417.06,440.42" fill="#4F8C21" stroke="#333" stroke-width="0.4" stroke-linejoin="miter"/>
<polygon points="430.38,436.46 432.23,439.67 428.53,439.67" fill="#e2e2e2" stroke="#333" stroke-width="0.4" stroke-linejoin="miter"/>
<polygon points="440.55,434.96 443.7,440.42 437.4,440.42" fill="#e2e2e2" stroke="#333" stroke-width="0.4" stroke-linejoin="miter"/>
<polygon points="450.71,434.96 453.86,440.42 447.56,440.42" fill="#4F8C21" stroke="#333" stroke-width="0.4" stroke-linejoin="miter"/>
<polygon points="460.88,434.96 464.03,440.42 457.73,440.42" fill="#e2e2e2" stroke="#333" stroke-width="0.4" stroke-linejoin="miter"/>
<polygon points="471.05,434.96 474.2,440.42 467.9,440.42" fill="#4F8C21" stroke="#333" stroke-width="0.4" stroke-linejoin="miter"/>
<polygon points="481.21,434.96 484.36,440.42 478.06,440.42" fill="#4F8C21" stroke="#333" stroke-width="0.4" stroke-linejoin="miter"/>
<polygon points="491.38,434.96 494.53,440.42 488.23,440.42" fill="#e2e2e2" stroke="#333" stroke-width="0.4" stroke-linejoin="miter"/>
<polygon points="501.55,434.96 504.7,440.42 498.4,440.42" fill="#4F8C21" stroke="#333" stroke-width="0.4" stroke-linejoin="miter"/>
<polygon points="511.71,434.96 514.87,440.42 508.56,440.42" fill="#e2e2e2" stroke="#333" stroke-width="0.4" stroke-linejoin="miter"/>
<polygon points="521.88,434.96 525.03,440.42 518.73,440.42" fill="#4F8C21" stroke="#333" stroke-width="0.4" stroke-linejoin="miter"/>
<polygon points="532.05,434.96 535.2,440.42 528.9,440.42" fill="#4F8C21" stroke="#333" stroke-width="0.4" stroke-linejoin="miter"/>
<polygon points="542.22,434.96 545.37,440.42 539.07,440.42" fill="#e2e2e2" stroke="#333" stroke-width="0.4" stroke-linejoin="miter"/>
<polygon points="552.38,434.04 556.33,440.88 548.43,440.88" fill="#4F8C21" stroke="#333" stroke-width="0.4" stroke-linejoin="miter"/>
<rect x="48.3" y="378.5" width="510.3" height="73.7" fill="none" stroke="#454545" stroke-width="0.6"/>
<line x1="46.4" y1="392.4" x2="48.3" y2="392.4" stroke="#333" stroke-width="0.7"/>
<text x="45.4" y="394.7" font-size="6.8" text-anchor="end" font-weight="normal" fill="#333" stroke="#333" stroke-width="0.16">SKOV3</text>
<line x1="46.4" y1="415.5" x2="48.3" y2="415.5" stroke="#333" stroke-width="0.7"/>
<text x="45.4" y="417.8" font-size="6.8" text-anchor="end" font-weight="normal" fill="#333" stroke="#333" stroke-width="0.16">A2780</text>
<line x1="46.4" y1="438.6" x2="48.3" y2="438.6" stroke="#333" stroke-width="0.7"/>
<text x="45.4" y="440.9" font-size="6.8" text-anchor="end" font-weight="normal" fill="#333" stroke="#333" stroke-width="0.16">A1336</text>
<line x1="54.2" y1="452.2" x2="54.2" y2="454.1" stroke="#333" stroke-width="0.7"/>
<text transform="translate(57.9,459.5) rotate(-45)" font-size="6.85" text-anchor="end" font-weight="normal" fill="#333" stroke="#333" stroke-width="0.16">E2F TARGETS</text>
<line x1="64.37" y1="452.2" x2="64.37" y2="454.1" stroke="#333" stroke-width="0.7"/>
<text transform="translate(68.07,459.5) rotate(-45)" font-size="6.85" text-anchor="end" font-weight="normal" fill="#333" stroke="#333" stroke-width="0.16">G2M CHECKPOINT</text>
<line x1="74.53" y1="452.2" x2="74.53" y2="454.1" stroke="#333" stroke-width="0.7"/>
<text transform="translate(78.23,459.5) rotate(-45)" font-size="6.85" text-anchor="end" font-weight="normal" fill="#333" stroke="#333" stroke-width="0.16">MITOTIC SPINDLE</text>
<line x1="84.7" y1="452.2" x2="84.7" y2="454.1" stroke="#333" stroke-width="0.7"/>
<text transform="translate(88.4,459.5) rotate(-45)" font-size="6.85" text-anchor="end" font-weight="normal" fill="#333" stroke="#333" stroke-width="0.16">MYC TARGETS V1</text>
<line x1="94.87" y1="452.2" x2="94.87" y2="454.1" stroke="#333" stroke-width="0.7"/>
<text transform="translate(98.57,459.5) rotate(-45)" font-size="6.85" text-anchor="end" font-weight="normal" fill="#333" stroke="#333" stroke-width="0.16">SPERMATOGENESIS</text>
<line x1="105.03" y1="452.2" x2="105.03" y2="454.1" stroke="#333" stroke-width="0.7"/>
<text transform="translate(108.73,459.5) rotate(-45)" font-size="6.85" text-anchor="end" font-weight="normal" fill="#333" stroke="#333" stroke-width="0.16">MTORC1 SIGNALING</text>
<line x1="115.2" y1="452.2" x2="115.2" y2="454.1" stroke="#333" stroke-width="0.7"/>
<text transform="translate(118.9,459.5) rotate(-45)" font-size="6.85" text-anchor="end" font-weight="normal" fill="#333" stroke="#333" stroke-width="0.16">MYC TARGETS V2</text>
<line x1="125.37" y1="452.2" x2="125.37" y2="454.1" stroke="#333" stroke-width="0.7"/>
<text transform="translate(129.07,459.5) rotate(-45)" font-size="6.85" text-anchor="end" font-weight="normal" fill="#333" stroke="#333" stroke-width="0.16">NOTCH SIGNALING</text>
<line x1="135.54" y1="452.2" x2="135.54" y2="454.1" stroke="#333" stroke-width="0.7"/>
<text transform="translate(139.24,459.5) rotate(-45)" font-size="6.85" text-anchor="end" font-weight="normal" fill="#333" stroke="#333" stroke-width="0.16">APICAL JUNCTION</text>
<line x1="145.7" y1="452.2" x2="145.7" y2="454.1" stroke="#333" stroke-width="0.7"/>
<text transform="translate(149.4,459.5) rotate(-45)" font-size="6.85" text-anchor="end" font-weight="normal" fill="#333" stroke="#333" stroke-width="0.16">UNFOLDED PROTEIN RESPONSE</text>
<line x1="155.87" y1="452.2" x2="155.87" y2="454.1" stroke="#333" stroke-width="0.7"/>
<text transform="translate(159.57,459.5) rotate(-45)" font-size="6.85" text-anchor="end" font-weight="normal" fill="#333" stroke="#333" stroke-width="0.16">WNT BETA CATENIN SIGNALING</text>
<line x1="166.04" y1="452.2" x2="166.04" y2="454.1" stroke="#333" stroke-width="0.7"/>
<text transform="translate(169.74,459.5) rotate(-45)" font-size="6.85" text-anchor="end" font-weight="normal" fill="#333" stroke="#333" stroke-width="0.16">GLYCOLYSIS</text>
<line x1="176.2" y1="452.2" x2="176.2" y2="454.1" stroke="#333" stroke-width="0.7"/>
<text transform="translate(179.9,459.5) rotate(-45)" font-size="6.85" text-anchor="end" font-weight="normal" fill="#333" stroke="#333" stroke-width="0.16">TGF BETA SIGNALING</text>
<line x1="186.37" y1="452.2" x2="186.37" y2="454.1" stroke="#333" stroke-width="0.7"/>
<text transform="translate(190.07,459.5) rotate(-45)" font-size="6.85" text-anchor="end" font-weight="normal" fill="#333" stroke="#333" stroke-width="0.16">UV RESPONSE DN</text>
<line x1="196.54" y1="452.2" x2="196.54" y2="454.1" stroke="#333" stroke-width="0.7"/>
<text transform="translate(200.24,459.5) rotate(-45)" font-size="6.85" text-anchor="end" font-weight="normal" fill="#333" stroke="#333" stroke-width="0.16">PROTEIN SECRETION</text>
<line x1="206.7" y1="452.2" x2="206.7" y2="454.1" stroke="#333" stroke-width="0.7"/>
<text transform="translate(210.4,459.5) rotate(-45)" font-size="6.85" text-anchor="end" font-weight="normal" fill="#333" stroke="#333" stroke-width="0.16">DNA REPAIR</text>
<line x1="216.87" y1="452.2" x2="216.87" y2="454.1" stroke="#333" stroke-width="0.7"/>
<text transform="translate(220.57,459.5) rotate(-45)" font-size="6.85" text-anchor="end" font-weight="normal" fill="#333" stroke="#333" stroke-width="0.16">ESTROGEN RESPONSE LATE</text>
<line x1="227.04" y1="452.2" x2="227.04" y2="454.1" stroke="#333" stroke-width="0.7"/>
<text transform="translate(230.74,459.5) rotate(-45)" font-size="6.85" text-anchor="end" font-weight="normal" fill="#333" stroke="#333" stroke-width="0.16">PI3K AKT MTOR SIGNALING</text>
<line x1="237.21" y1="452.2" x2="237.21" y2="454.1" stroke="#333" stroke-width="0.7"/>
<text transform="translate(240.91,459.5) rotate(-45)" font-size="6.85" text-anchor="end" font-weight="normal" fill="#333" stroke="#333" stroke-width="0.16">ANDROGEN RESPONSE</text>
<line x1="247.37" y1="452.2" x2="247.37" y2="454.1" stroke="#333" stroke-width="0.7"/>
<text transform="translate(251.07,459.5) rotate(-45)" font-size="6.85" text-anchor="end" font-weight="normal" fill="#333" stroke="#333" stroke-width="0.16">ESTROGEN RESPONSE EARLY</text>
<line x1="257.54" y1="452.2" x2="257.54" y2="454.1" stroke="#333" stroke-width="0.7"/>
<text transform="translate(261.24,459.5) rotate(-45)" font-size="6.85" text-anchor="end" font-weight="normal" fill="#333" stroke="#333" stroke-width="0.16">CHOLESTEROL HOMEOSTASIS</text>
<line x1="267.71" y1="452.2" x2="267.71" y2="454.1" stroke="#333" stroke-width="0.7"/>
<text transform="translate(271.41,459.5) rotate(-45)" font-size="6.85" text-anchor="end" font-weight="normal" fill="#333" stroke="#333" stroke-width="0.16">FATTY ACID METABOLISM</text>
<line x1="277.87" y1="452.2" x2="277.87" y2="454.1" stroke="#333" stroke-width="0.7"/>
<text transform="translate(281.57,459.5) rotate(-45)" font-size="6.85" text-anchor="end" font-weight="normal" fill="#333" stroke="#333" stroke-width="0.16">APICAL SURFACE</text>
<line x1="288.04" y1="452.2" x2="288.04" y2="454.1" stroke="#333" stroke-width="0.7"/>
<text transform="translate(291.74,459.5) rotate(-45)" font-size="6.85" text-anchor="end" font-weight="normal" fill="#333" stroke="#333" stroke-width="0.16">ANGIOGENESIS</text>
<line x1="298.21" y1="452.2" x2="298.21" y2="454.1" stroke="#333" stroke-width="0.7"/>
<text transform="translate(301.91,459.5) rotate(-45)" font-size="6.85" text-anchor="end" font-weight="normal" fill="#333" stroke="#333" stroke-width="0.16">PEROXISOME</text>
<line x1="308.38" y1="452.2" x2="308.38" y2="454.1" stroke="#333" stroke-width="0.7"/>
<text transform="translate(312.07,459.5) rotate(-45)" font-size="6.85" text-anchor="end" font-weight="normal" fill="#333" stroke="#333" stroke-width="0.16">ADIPOGENESIS</text>
<line x1="318.54" y1="452.2" x2="318.54" y2="454.1" stroke="#333" stroke-width="0.7"/>
<text transform="translate(322.24,459.5) rotate(-45)" font-size="6.85" text-anchor="end" font-weight="normal" fill="#333" stroke="#333" stroke-width="0.16">HEDGEHOG SIGNALING</text>
<line x1="328.71" y1="452.2" x2="328.71" y2="454.1" stroke="#333" stroke-width="0.7"/>
<text transform="translate(332.41,459.5) rotate(-45)" font-size="6.85" text-anchor="end" font-weight="normal" fill="#333" stroke="#333" stroke-width="0.16">UV RESPONSE UP</text>
<line x1="338.88" y1="452.2" x2="338.88" y2="454.1" stroke="#333" stroke-width="0.7"/>
<text transform="translate(342.58,459.5) rotate(-45)" font-size="6.85" text-anchor="end" font-weight="normal" fill="#333" stroke="#333" stroke-width="0.16">OX. PHOS.</text>
<line x1="349.04" y1="452.2" x2="349.04" y2="454.1" stroke="#333" stroke-width="0.7"/>
<text transform="translate(352.74,459.5) rotate(-45)" font-size="6.85" text-anchor="end" font-weight="normal" fill="#333" stroke="#333" stroke-width="0.16">HEME METABOLISM</text>
<line x1="359.21" y1="452.2" x2="359.21" y2="454.1" stroke="#333" stroke-width="0.7"/>
<text transform="translate(362.91,459.5) rotate(-45)" font-size="6.85" text-anchor="end" font-weight="normal" fill="#333" stroke="#333" stroke-width="0.16">KRAS SIGNALING DN</text>
<line x1="369.38" y1="452.2" x2="369.38" y2="454.1" stroke="#333" stroke-width="0.7"/>
<text transform="translate(373.08,459.5) rotate(-45)" font-size="6.85" text-anchor="end" font-weight="normal" fill="#333" stroke="#333" stroke-width="0.16">BILE ACID METABOLISM</text>
<line x1="379.54" y1="452.2" x2="379.54" y2="454.1" stroke="#333" stroke-width="0.7"/>
<text transform="translate(383.24,459.5) rotate(-45)" font-size="6.85" text-anchor="end" font-weight="normal" fill="#333" stroke="#333" stroke-width="0.16">PANCREAS BETA CELLS</text>
<line x1="389.71" y1="452.2" x2="389.71" y2="454.1" stroke="#333" stroke-width="0.7"/>
<text transform="translate(393.41,459.5) rotate(-45)" font-size="6.85" text-anchor="end" font-weight="normal" fill="#333" stroke="#333" stroke-width="0.16">MYOGENESIS</text>
<line x1="399.88" y1="452.2" x2="399.88" y2="454.1" stroke="#333" stroke-width="0.7"/>
<text transform="translate(403.58,459.5) rotate(-45)" font-size="6.85" text-anchor="end" font-weight="normal" fill="#333" stroke="#333" stroke-width="0.16">XENOBIOTIC METABOLISM</text>
<line x1="410.04" y1="452.2" x2="410.04" y2="454.1" stroke="#333" stroke-width="0.7"/>
<text transform="translate(413.74,459.5) rotate(-45)" font-size="6.85" text-anchor="end" font-weight="normal" fill="#333" stroke="#333" stroke-width="0.16">EPITHELIAL MESENCHYMAL TRANSITION</text>
<line x1="420.21" y1="452.2" x2="420.21" y2="454.1" stroke="#333" stroke-width="0.7"/>
<text transform="translate(423.91,459.5) rotate(-45)" font-size="6.85" text-anchor="end" font-weight="normal" fill="#333" stroke="#333" stroke-width="0.16">INTERFERON ALPHA RESPONSE</text>
<line x1="430.38" y1="452.2" x2="430.38" y2="454.1" stroke="#333" stroke-width="0.7"/>
<text transform="translate(434.08,459.5) rotate(-45)" font-size="6.85" text-anchor="end" font-weight="normal" fill="#333" stroke="#333" stroke-width="0.16">REACTIVE OXYGEN SPECIES PATHWAY</text>
<line x1="440.55" y1="452.2" x2="440.55" y2="454.1" stroke="#333" stroke-width="0.7"/>
<text transform="translate(444.25,459.5) rotate(-45)" font-size="6.85" text-anchor="end" font-weight="normal" fill="#333" stroke="#333" stroke-width="0.16">IL2 STAT5 SIGNALING</text>
<line x1="450.71" y1="452.2" x2="450.71" y2="454.1" stroke="#333" stroke-width="0.7"/>
<text transform="translate(454.41,459.5) rotate(-45)" font-size="6.85" text-anchor="end" font-weight="normal" fill="#333" stroke="#333" stroke-width="0.16">COAGULATION</text>
<line x1="460.88" y1="452.2" x2="460.88" y2="454.1" stroke="#333" stroke-width="0.7"/>
<text transform="translate(464.58,459.5) rotate(-45)" font-size="6.85" text-anchor="end" font-weight="normal" fill="#333" stroke="#333" stroke-width="0.16">COMPLEMENT</text>
<line x1="471.05" y1="452.2" x2="471.05" y2="454.1" stroke="#333" stroke-width="0.7"/>
<text transform="translate(474.75,459.5) rotate(-45)" font-size="6.85" text-anchor="end" font-weight="normal" fill="#333" stroke="#333" stroke-width="0.16">HYPOXIA</text>
<line x1="481.21" y1="452.2" x2="481.21" y2="454.1" stroke="#333" stroke-width="0.7"/>
<text transform="translate(484.91,459.5) rotate(-45)" font-size="6.85" text-anchor="end" font-weight="normal" fill="#333" stroke="#333" stroke-width="0.16">ALLOGRAFT REJECTION</text>
<line x1="491.38" y1="452.2" x2="491.38" y2="454.1" stroke="#333" stroke-width="0.7"/>
<text transform="translate(495.08,459.5) rotate(-45)" font-size="6.85" text-anchor="end" font-weight="normal" fill="#333" stroke="#333" stroke-width="0.16">INTERFERON GAMMA RESPONSE</text>
<line x1="501.55" y1="452.2" x2="501.55" y2="454.1" stroke="#333" stroke-width="0.7"/>
<text transform="translate(505.25,459.5) rotate(-45)" font-size="6.85" text-anchor="end" font-weight="normal" fill="#333" stroke="#333" stroke-width="0.16">APOPTOSIS</text>
<line x1="511.71" y1="452.2" x2="511.71" y2="454.1" stroke="#333" stroke-width="0.7"/>
<text transform="translate(515.41,459.5) rotate(-45)" font-size="6.85" text-anchor="end" font-weight="normal" fill="#333" stroke="#333" stroke-width="0.16">INFLAMMATORY RESPONSE</text>
<line x1="521.88" y1="452.2" x2="521.88" y2="454.1" stroke="#333" stroke-width="0.7"/>
<text transform="translate(525.58,459.5) rotate(-45)" font-size="6.85" text-anchor="end" font-weight="normal" fill="#333" stroke="#333" stroke-width="0.16">IL6 JAK STAT3 SIGNALING</text>
<line x1="532.05" y1="452.2" x2="532.05" y2="454.1" stroke="#333" stroke-width="0.7"/>
<text transform="translate(535.75,459.5) rotate(-45)" font-size="6.85" text-anchor="end" font-weight="normal" fill="#333" stroke="#333" stroke-width="0.16">KRAS SIGNALING UP</text>
<line x1="542.22" y1="452.2" x2="542.22" y2="454.1" stroke="#333" stroke-width="0.7"/>
<text transform="translate(545.92,459.5) rotate(-45)" font-size="6.85" text-anchor="end" font-weight="normal" fill="#333" stroke="#333" stroke-width="0.16">TNFA SIGNALING VIA NFKB</text>
<line x1="552.38" y1="452.2" x2="552.38" y2="454.1" stroke="#333" stroke-width="0.7"/>
<text transform="translate(556.08,459.5) rotate(-45)" font-size="6.85" text-anchor="end" font-weight="normal" fill="#333" stroke="#333" stroke-width="0.16">P53 PATHWAY</text>
<text transform="translate(17.9,415.4) rotate(-90)" font-size="7.4" text-anchor="middle" font-weight="normal" fill="#000">Cell line</text>
<text x="303.4" y="563.4" font-size="7.5" text-anchor="middle" font-weight="normal" fill="#000">Hallmark pathways</text>
<text x="50.4" y="354.6" font-size="7.4" text-anchor="start" font-weight="normal" fill="#000">Significance</text>
<circle cx="98.7" cy="352.2" r="2.6" fill="#d9d9d9" stroke="#333" stroke-width="0.4"/>
<text x="106.2" y="354.6" font-size="6.75" text-anchor="start" font-weight="normal" fill="#000">Not significant</text>
<circle cx="156.8" cy="352.2" r="2.6" fill="#000" stroke="#000" stroke-width="0.4"/>
<text x="164.4" y="354.6" font-size="6.75" text-anchor="start" font-weight="normal" fill="#000">p-adjusted &lt; .05</text>
<text x="226.1" y="354.6" font-size="7.4" text-anchor="start" font-weight="normal" fill="#000">Direction of enrichment</text>
<polygon points="310.1,357.4 314,350.65 306.2,350.65" fill="#fff" stroke="#333" stroke-width="0.5" stroke-linejoin="miter"/>
<text x="317.9" y="354.6" font-size="6.75" text-anchor="start" font-weight="normal" fill="#000">Down</text>
<polygon points="342.4,347.8 346.3,354.55 338.5,354.55" fill="#fff" stroke="#333" stroke-width="0.5" stroke-linejoin="miter"/>
<text x="350" y="354.6" font-size="6.75" text-anchor="start" font-weight="normal" fill="#000">Up</text>
<text x="370.4" y="354.6" font-size="7.4" text-anchor="start" font-weight="normal" fill="#000">NES</text>
<circle cx="393" cy="352.2" r="1" fill="#fff" stroke="#2a2a2a" stroke-width="0.55"/>
<text x="400.4" y="354.6" font-size="6.75" text-anchor="start" font-weight="normal" fill="#000">[0, 1)</text>
<circle cx="424.2" cy="352.2" r="2.05" fill="#fff" stroke="#2a2a2a" stroke-width="0.55"/>
<text x="431.8" y="354.6" font-size="6.75" text-anchor="start" font-weight="normal" fill="#000">[1, 2)</text>
<circle cx="455" cy="352.2" r="2.95" fill="#fff" stroke="#2a2a2a" stroke-width="0.55"/>
<text x="462" y="354.6" font-size="6.75" text-anchor="start" font-weight="normal" fill="#000">[2, 3)</text>
<circle cx="485.6" cy="352.2" r="3.75" fill="#fff" stroke="#2a2a2a" stroke-width="0.55"/>
<text x="492.9" y="354.6" font-size="6.75" text-anchor="start" font-weight="normal" fill="#000">[3, 4)</text>
</g>
</svg>
</body></html>
